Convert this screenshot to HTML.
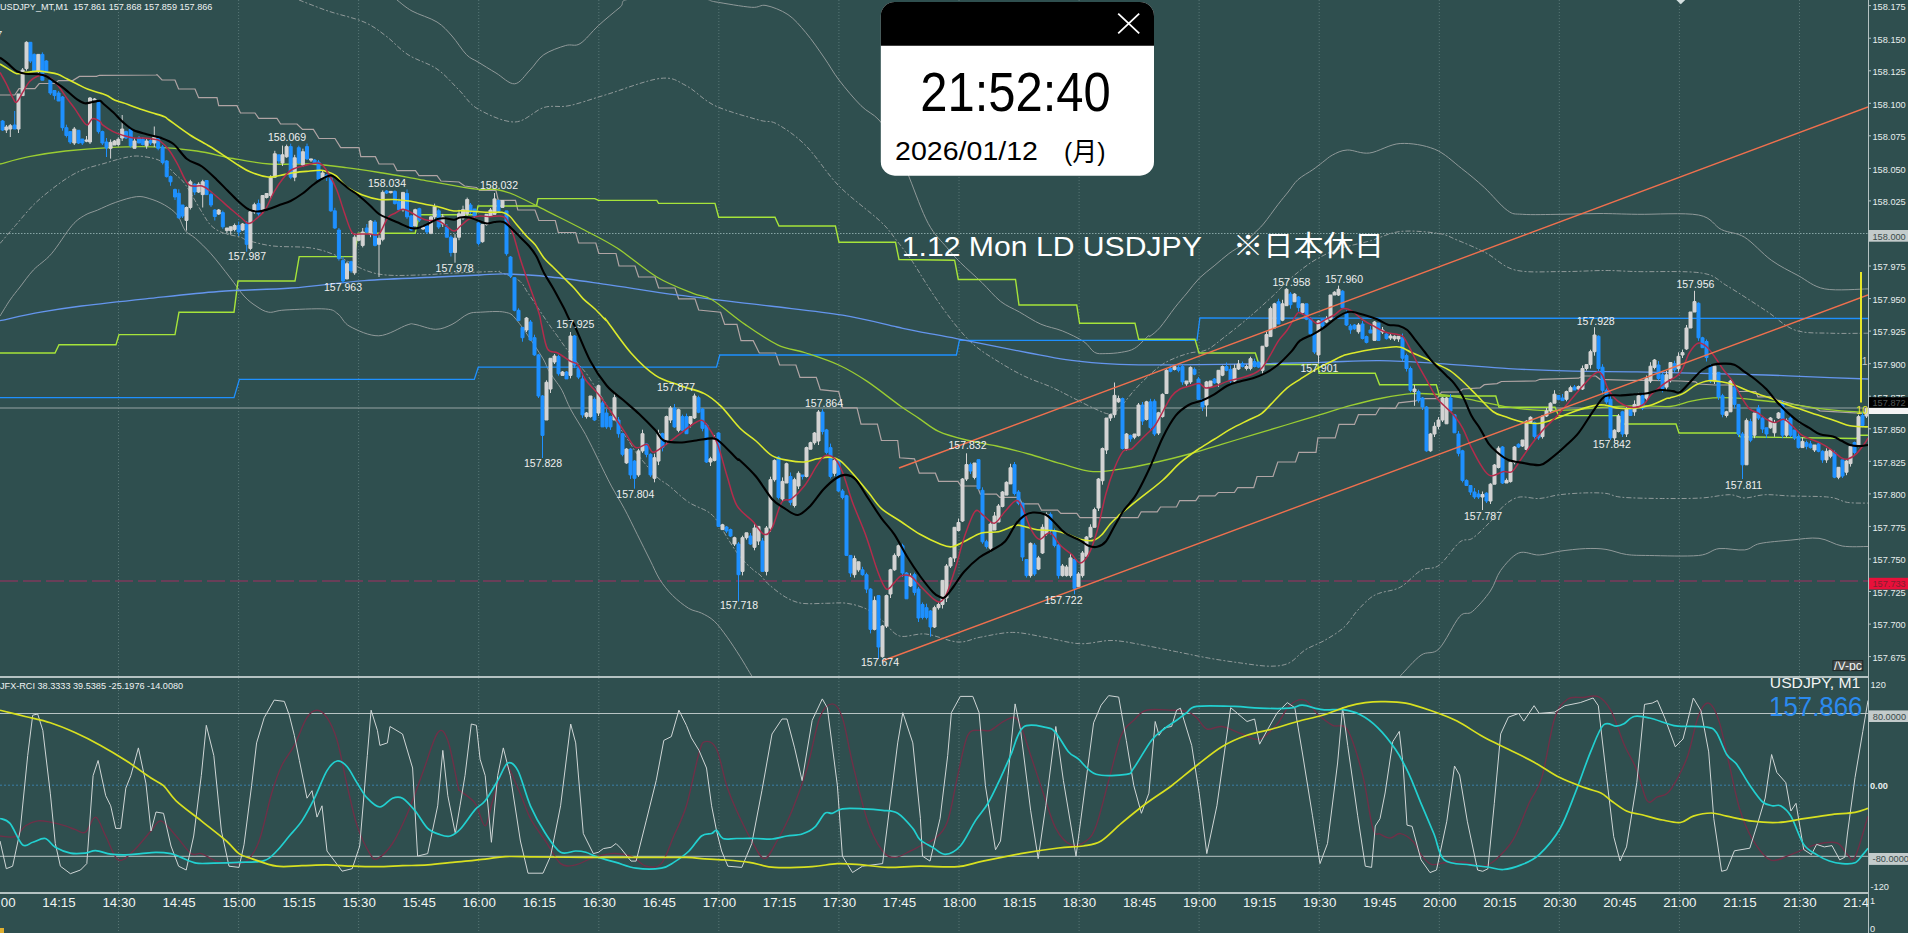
<!DOCTYPE html>
<html><head><meta charset="utf-8"><title>USDJPY M1</title>
<style>html,body{margin:0;padding:0;background:#2f4f4f;overflow:hidden}#root{position:relative;width:1908px;height:933px;overflow:hidden}</style>
</head><body><div id="root">
<svg width="1908" height="933" viewBox="0 0 1908 933" style="position:absolute;left:0;top:0"><defs><clipPath id="cm"><rect x="0" y="0" width="1868" height="676"/></clipPath><clipPath id="cr"><rect x="0" y="678" width="1868" height="214"/></clipPath></defs><rect width="1908" height="933" fill="#2f4f4f"/><g stroke="#6e8a8a" stroke-width="1" stroke-dasharray="1 2" opacity="0.65"><line x1="118.5" y1="0" x2="118.5" y2="933"/><line x1="238.6" y1="0" x2="238.6" y2="933"/><line x1="358.6" y1="0" x2="358.6" y2="933"/><line x1="478.7" y1="0" x2="478.7" y2="933"/><line x1="598.8" y1="0" x2="598.8" y2="933"/><line x1="718.8" y1="0" x2="718.8" y2="933"/><line x1="838.9" y1="0" x2="838.9" y2="933"/><line x1="959.0" y1="0" x2="959.0" y2="933"/><line x1="1079.1" y1="0" x2="1079.1" y2="933"/><line x1="1199.1" y1="0" x2="1199.1" y2="933"/><line x1="1319.2" y1="0" x2="1319.2" y2="933"/><line x1="1439.3" y1="0" x2="1439.3" y2="933"/><line x1="1559.3" y1="0" x2="1559.3" y2="933"/><line x1="1679.4" y1="0" x2="1679.4" y2="933"/><line x1="1799.5" y1="0" x2="1799.5" y2="933"/></g><g clip-path="url(#cm)" fill="none"><line x1="0" y1="233.5" x2="1868" y2="233.5" stroke="#86a4a4" stroke-dasharray="1.5 1.5" stroke-width="1"/><line x1="0" y1="408" x2="1868" y2="408" stroke="#95a3a3" stroke-width="1.2"/><line x1="0" y1="581" x2="1868" y2="581" stroke="#7e3a5c" stroke-dasharray="18 5" stroke-width="1.4"/><path d="M397.0 0.0C399.5 1.8 405.3 7.3 412.0 11.0C418.7 14.7 430.3 17.8 437.0 22.0C443.7 26.2 447.1 30.6 452.0 36.0C456.9 41.5 462.2 50.4 466.5 54.7C470.8 59.0 473.1 59.0 478.0 62.0C482.9 65.0 489.9 69.4 496.0 73.0C502.1 76.6 509.0 84.3 514.7 83.8C520.4 83.3 525.1 74.8 530.0 70.0C534.9 65.2 537.8 58.8 543.8 54.7C549.8 50.6 559.7 47.3 565.7 45.5C571.7 43.7 574.5 47.0 580.0 43.7C585.5 40.4 591.8 31.6 598.5 25.5C605.2 19.4 614.6 11.7 620.0 7.3C625.4 2.9 617.7 0.4 631.0 -1.0C644.3 -2.4 686.0 -1.5 700.0 -1.0C714.0 -0.5 706.4 0.4 715.0 1.8C723.6 3.2 743.0 6.7 751.5 7.3C760.0 7.9 759.9 4.3 766.0 5.5C772.1 6.7 781.3 10.1 788.0 14.6C794.7 19.1 799.9 25.6 806.0 32.8C812.1 40.0 818.9 50.1 824.4 58.0C829.9 65.9 832.9 72.0 839.0 80.0C845.1 88.0 854.3 99.0 861.0 105.7C867.7 112.4 873.0 113.3 879.0 120.0C885.0 126.7 891.9 136.1 897.0 145.8C902.1 155.5 904.3 165.0 909.5 178.0C914.7 191.0 922.0 212.0 928.3 223.6C934.5 235.2 941.6 241.2 947.0 247.7C952.4 254.2 954.6 256.7 960.4 262.5C966.2 268.3 975.2 276.1 981.9 282.6C988.6 289.1 994.4 296.5 1000.6 301.4C1006.9 306.3 1012.7 308.2 1019.4 312.0C1026.1 315.8 1033.8 321.1 1040.9 324.2C1048.1 327.3 1055.2 328.0 1062.3 330.9C1069.4 333.8 1078.4 338.0 1083.8 341.6C1089.2 345.2 1090.9 350.3 1094.5 352.3C1098.1 354.3 1100.7 353.6 1105.2 353.6C1109.7 353.6 1116.4 353.2 1121.3 352.3C1126.2 351.4 1130.2 351.0 1134.7 348.3C1139.2 345.6 1145.5 338.2 1148.0 336.2C1150.5 334.2 1148.0 337.6 1150.0 336.2C1152.0 334.8 1155.8 332.3 1159.9 327.6C1164.0 322.9 1170.2 313.6 1174.7 307.8C1179.2 302.0 1182.9 297.9 1187.0 293.0C1191.1 288.1 1194.8 282.7 1199.3 278.2C1203.8 273.7 1209.2 270.0 1214.1 265.9C1219.0 261.8 1224.0 257.3 1228.9 253.6C1233.8 249.9 1239.6 247.0 1243.7 243.7C1247.8 240.4 1250.3 237.1 1253.6 233.8C1256.9 230.5 1259.3 228.9 1263.4 224.0C1267.5 219.1 1274.1 209.6 1278.2 204.3C1282.3 199.0 1284.8 196.1 1288.1 192.0C1291.4 187.9 1293.9 183.3 1298.0 179.6C1302.1 175.9 1308.7 172.6 1312.8 169.7C1316.9 166.8 1319.3 164.8 1322.6 162.3C1325.9 159.9 1328.4 157.1 1332.5 155.0C1336.6 152.9 1341.1 150.3 1347.3 150.0C1353.5 149.7 1360.8 154.1 1369.6 153.0C1378.4 151.9 1389.4 144.1 1400.2 143.5C1411.0 142.9 1424.4 145.1 1434.6 149.2C1444.8 153.3 1453.1 161.9 1461.4 168.3C1469.7 174.7 1476.7 180.5 1484.3 187.5C1491.9 194.5 1500.9 205.9 1507.3 210.4C1513.7 214.9 1513.7 213.7 1522.6 214.3C1531.5 215.0 1548.2 214.4 1560.9 214.3C1573.6 214.2 1586.2 213.5 1599.0 213.5C1611.8 213.5 1620.8 214.1 1637.4 214.3C1654.0 214.6 1684.6 212.4 1698.6 215.0C1712.6 217.6 1713.8 225.9 1721.5 229.6C1729.2 233.3 1736.2 232.1 1744.5 237.2C1752.8 242.3 1762.4 253.8 1771.3 260.2C1780.2 266.6 1789.1 270.7 1798.0 275.5C1806.9 280.3 1813.1 286.7 1824.8 288.9C1836.5 291.1 1860.8 288.9 1868.0 288.9" stroke="#8f9999" stroke-width="1"/><path d="M0.0 316.0C1.7 313.3 6.7 304.8 10.0 300.0C13.3 295.2 16.1 292.0 20.0 287.0C23.9 282.0 28.2 275.5 33.4 270.0C38.6 264.5 45.0 261.2 51.4 253.8C57.8 246.4 66.4 231.9 72.0 225.5C77.6 219.1 80.6 217.8 84.9 215.2C89.2 212.6 92.6 212.2 97.7 210.0C102.8 207.8 109.4 204.5 115.8 202.3C122.2 200.1 130.7 197.3 136.3 196.7C141.9 196.1 144.5 197.1 149.2 198.5C153.9 199.9 159.9 202.2 164.6 205.0C169.3 207.8 174.1 210.9 177.5 215.2C180.9 219.5 182.2 226.7 185.2 230.6C188.2 234.5 191.2 234.5 195.5 238.4C199.8 242.3 205.3 247.4 211.0 253.8C216.7 260.2 224.1 270.0 229.6 277.0C235.1 284.0 239.6 291.2 244.0 296.0C248.4 300.8 251.9 303.3 256.0 306.0C260.1 308.7 263.9 311.5 268.7 312.2C273.5 312.9 275.5 310.5 285.0 310.0C294.5 309.5 316.9 308.3 325.7 309.0C334.5 309.7 333.9 311.1 338.0 314.0C342.1 316.9 343.2 322.9 350.0 326.5C356.8 330.1 369.2 336.1 378.7 335.8C388.2 335.6 400.9 326.9 407.0 325.0C413.1 323.1 410.2 323.7 415.0 324.4C419.8 325.1 429.5 329.3 435.7 329.3C441.9 329.3 446.6 326.9 452.0 324.4C457.4 321.8 463.3 316.0 468.0 314.0C472.7 312.0 474.3 312.5 480.4 312.2C486.5 311.9 498.7 310.8 504.8 312.2C510.9 313.6 510.9 313.1 517.0 320.4C523.1 327.7 536.2 347.8 541.4 356.0C546.6 364.2 546.0 365.7 548.3 369.7C550.6 373.7 552.7 376.6 555.0 380.0C557.3 383.4 559.3 385.3 562.0 390.3C564.7 395.3 567.0 402.6 571.0 410.0C575.0 417.4 581.1 426.3 585.7 434.7C590.3 443.1 594.3 451.8 598.6 460.4C602.9 469.0 607.1 478.1 611.4 486.1C615.7 494.1 620.0 500.6 624.3 508.6C628.6 516.6 632.9 525.7 637.2 534.3C641.5 542.9 646.2 552.5 650.0 560.0C653.8 567.5 656.0 573.5 659.7 579.4C663.5 585.3 667.7 590.6 672.5 595.4C677.3 600.2 683.8 605.3 688.6 608.3C693.4 611.2 697.2 611.0 701.5 613.1C705.8 615.2 710.0 617.2 714.3 621.2C718.6 625.2 722.9 631.3 727.2 637.2C731.5 643.1 736.2 650.6 740.0 656.5C743.8 662.4 747.3 668.7 749.7 672.6C752.1 676.5 753.3 678.1 754.5 680.0C755.7 681.9 756.6 683.3 757.0 684.0" stroke="#8f9999" stroke-width="1"/><path d="M1393.0 684.0C1394.2 682.6 1395.8 680.5 1400.5 675.7C1405.2 670.9 1414.6 659.7 1421.0 655.2C1427.4 650.7 1432.6 655.2 1439.0 648.8C1445.4 642.4 1454.0 622.8 1459.6 616.6C1465.2 610.4 1467.3 615.8 1472.4 611.5C1477.5 607.2 1485.7 597.9 1490.4 591.0C1495.1 584.1 1496.0 576.7 1500.7 570.4C1505.4 564.1 1512.3 555.6 1518.7 553.0C1525.1 550.4 1532.4 555.3 1539.2 555.0C1546.0 554.7 1552.1 552.3 1559.8 551.2C1567.5 550.1 1577.7 548.9 1585.4 548.6C1593.1 548.3 1599.2 548.4 1606.0 549.4C1612.8 550.4 1619.2 553.5 1626.5 554.5C1633.8 555.5 1637.6 555.3 1649.6 555.5C1661.6 555.7 1686.8 556.6 1698.4 555.5C1710.0 554.4 1711.3 549.5 1719.0 548.6C1726.7 547.7 1737.9 550.8 1744.7 549.9C1751.5 549.0 1752.3 545.1 1760.0 543.5C1767.7 541.9 1781.1 541.0 1790.9 540.1C1800.7 539.2 1810.5 537.3 1819.0 538.3C1827.5 539.3 1834.0 544.6 1842.2 546.0C1850.4 547.4 1863.7 546.4 1868.0 546.5" stroke="#8f9999" stroke-width="1"/><path d="M299.0 0.0C303.8 1.8 317.2 7.3 328.0 11.0C338.8 14.7 354.3 17.8 364.0 22.0C373.7 26.2 378.7 30.6 386.0 36.0C393.3 41.5 399.5 49.2 408.0 54.7C416.5 60.2 428.5 63.1 437.0 69.0C445.5 74.9 452.2 83.3 459.0 90.0C465.8 96.7 468.7 103.7 478.0 109.0C487.3 114.3 503.7 122.2 514.7 122.0C525.7 121.8 534.8 110.2 543.8 107.5C552.8 104.8 558.7 107.8 569.0 105.7C579.3 103.6 590.6 99.3 605.8 94.8C621.0 90.2 647.0 79.9 660.4 78.4C673.8 76.9 676.9 81.0 686.0 85.6C695.1 90.1 702.9 100.0 715.0 105.7C727.1 111.4 748.5 117.0 758.8 120.0C769.1 123.0 769.1 119.7 777.0 124.0C784.9 128.3 795.7 135.5 806.0 145.8C816.3 156.1 826.7 173.5 839.0 186.0C851.3 198.5 870.5 212.1 880.0 221.0C889.5 229.9 890.6 233.0 896.0 239.7C901.4 246.4 907.3 254.0 912.2 261.2C917.1 268.4 920.7 275.0 925.6 282.6C930.5 290.2 935.9 298.6 941.7 306.7C947.5 314.8 954.6 324.2 960.4 330.9C966.2 337.6 969.8 341.6 976.5 347.0C983.2 352.4 992.6 358.1 1000.6 363.0C1008.6 367.9 1016.3 372.4 1024.8 376.4C1033.3 380.4 1043.6 383.6 1051.6 387.2C1059.6 390.8 1065.8 394.3 1073.0 397.9C1080.2 401.5 1088.2 405.9 1094.5 408.6C1100.8 411.3 1106.1 414.4 1110.6 414.0C1115.1 413.6 1117.3 410.0 1121.3 406.0C1125.3 402.0 1130.2 394.7 1134.7 389.8C1139.2 384.9 1143.5 380.5 1148.0 376.4C1152.5 372.3 1157.0 368.1 1161.5 365.0C1166.0 361.9 1170.2 360.0 1175.0 358.0C1179.8 356.0 1184.7 354.4 1190.0 353.0C1195.3 351.6 1201.0 352.4 1206.7 349.8C1212.4 347.2 1217.0 342.8 1224.0 337.4C1231.0 332.0 1240.4 324.7 1248.6 317.7C1256.8 310.7 1266.7 301.7 1273.3 295.5C1279.9 289.3 1283.2 285.2 1288.1 280.7C1293.0 276.2 1298.0 272.1 1302.9 268.4C1307.8 264.7 1311.7 261.8 1317.7 258.5C1323.7 255.2 1330.3 251.6 1339.0 248.7C1347.7 245.8 1359.4 243.9 1369.6 241.0C1379.8 238.1 1388.7 232.8 1400.2 231.5C1411.7 230.2 1428.9 232.0 1438.4 233.4C1447.9 234.8 1449.1 236.8 1457.0 240.0C1464.9 243.2 1476.3 247.9 1486.0 252.9C1495.7 257.9 1502.5 266.9 1515.0 270.0C1527.5 273.1 1546.0 271.5 1561.0 271.6C1576.0 271.7 1592.3 270.5 1605.0 270.5C1617.7 270.5 1621.3 271.2 1637.4 271.6C1653.5 272.0 1686.5 270.6 1701.5 273.0C1716.5 275.4 1716.6 279.7 1727.3 286.0C1738.0 292.3 1754.7 303.4 1765.9 310.7C1777.2 318.0 1784.1 326.2 1794.8 330.0C1805.5 333.8 1818.0 332.7 1830.2 333.2C1842.4 333.7 1861.7 333.2 1868.0 333.2" stroke="#8f9999" stroke-width="1" stroke-dasharray="5 2 2 2"/><path d="M0.0 243.5C2.6 240.5 9.8 231.9 15.4 225.5C21.0 219.1 27.4 211.0 33.4 205.0C39.4 199.0 45.4 194.2 51.4 189.5C57.4 184.8 63.9 180.0 69.5 176.6C75.1 173.2 79.3 171.1 84.9 169.0C90.5 166.9 96.9 165.5 102.9 163.8C108.9 162.1 115.3 159.9 120.9 158.6C126.5 157.3 130.7 156.0 136.3 156.0C141.9 156.0 149.6 157.3 154.3 158.6C159.0 159.9 161.2 161.2 164.6 163.8C168.0 166.4 171.6 170.6 175.0 174.0C178.4 177.4 180.9 178.3 185.2 184.3C189.5 190.3 196.3 203.1 200.6 210.0C204.9 216.9 207.1 221.6 211.0 225.5C214.9 229.4 219.0 231.3 223.8 233.2C228.6 235.1 236.0 235.8 240.0 237.0C244.0 238.2 242.5 239.0 248.0 240.5C253.5 242.0 262.7 244.8 273.0 246.0C283.3 247.2 299.5 246.3 309.8 247.8C320.1 249.3 326.0 251.3 335.0 255.0C344.0 258.6 355.5 266.4 364.0 269.7C372.5 273.0 376.8 274.1 386.0 275.0C395.2 275.9 407.4 275.3 419.0 275.0C430.6 274.7 442.6 273.6 455.5 273.0C468.4 272.4 488.9 271.6 496.4 271.5C503.9 271.4 496.5 270.8 500.3 272.3C504.1 273.8 514.4 277.2 519.0 280.6C523.6 284.0 524.5 288.0 527.7 292.6C530.9 297.2 534.6 302.9 538.0 308.0C541.4 313.1 545.1 318.8 548.3 323.4C551.4 328.0 554.0 331.4 556.9 335.4C559.8 339.4 562.0 342.8 565.4 347.4C568.8 352.0 574.0 358.6 577.4 362.9C580.8 367.2 583.4 369.6 586.0 373.0C588.6 376.4 590.6 379.9 592.9 383.4C595.2 386.8 596.9 389.1 599.7 393.7C602.6 398.3 606.6 405.3 610.0 411.0C613.4 416.7 616.7 422.7 620.0 428.0C623.3 433.3 627.1 438.7 630.0 443.0C632.9 447.3 632.8 448.4 637.2 454.0C641.6 459.6 651.1 471.2 656.5 476.5C661.9 481.8 663.9 481.7 669.3 486.0C674.6 490.3 682.1 497.9 688.6 502.2C695.1 506.5 703.2 508.6 708.0 511.8C712.8 515.0 714.4 517.2 717.6 521.5C720.8 525.8 723.5 531.7 727.2 537.6C730.9 543.5 735.7 551.4 740.0 556.8C744.3 562.1 749.7 566.7 753.0 569.7C756.3 572.7 757.3 572.5 760.0 575.0C762.7 577.5 765.1 581.3 769.4 585.0C773.7 588.7 780.3 594.2 785.7 597.2C791.1 600.2 795.2 602.3 802.0 603.3C808.8 604.3 818.9 603.3 826.4 603.3C833.9 603.3 840.0 602.3 846.8 603.3C853.6 604.3 861.1 606.3 867.2 609.4C873.3 612.5 878.1 617.3 883.5 621.7C888.9 626.1 892.7 634.0 899.7 636.0C906.7 638.0 916.0 633.0 925.7 634.0C935.4 635.0 948.8 641.5 957.9 642.0C967.0 642.5 971.3 638.8 980.4 637.2C989.5 635.6 1001.8 632.4 1012.5 632.4C1023.2 632.4 1033.5 635.3 1044.7 637.2C1056.0 639.1 1068.8 643.2 1080.0 643.7C1091.2 644.2 1101.5 640.2 1112.2 640.5C1122.9 640.8 1133.7 643.4 1144.4 645.3C1155.1 647.2 1165.8 649.6 1176.5 651.7C1187.2 653.8 1198.0 656.2 1208.7 658.1C1219.4 660.0 1230.6 661.6 1240.8 663.0C1251.0 664.4 1261.8 666.2 1269.8 666.2C1277.8 666.2 1283.1 665.7 1289.0 663.0C1294.9 660.3 1299.1 653.8 1305.0 650.0C1310.9 646.2 1318.0 644.2 1324.4 640.5C1330.9 636.8 1338.3 632.4 1343.7 627.6C1349.1 622.8 1352.3 616.3 1356.6 611.5C1360.9 606.7 1365.6 601.7 1369.5 598.6C1373.4 595.5 1374.8 594.9 1380.0 593.0C1385.2 591.1 1393.7 590.9 1400.5 587.1C1407.3 583.3 1414.6 574.0 1421.0 570.4C1427.4 566.8 1432.6 570.0 1439.0 565.3C1445.4 560.6 1454.0 546.7 1459.6 542.2C1465.2 537.7 1467.3 541.7 1472.4 538.3C1477.5 534.9 1485.2 527.0 1490.4 521.6C1495.6 516.2 1498.6 510.3 1503.3 506.2C1508.0 502.1 1512.7 498.5 1518.7 497.2C1524.7 495.9 1532.4 498.9 1539.2 498.5C1546.0 498.1 1552.1 495.6 1559.8 494.7C1567.5 493.8 1577.7 493.1 1585.4 492.9C1593.1 492.7 1600.0 492.7 1606.0 493.4C1612.0 494.1 1612.0 496.3 1621.4 497.2C1630.8 498.1 1649.2 498.4 1662.5 498.5C1675.8 498.6 1689.9 498.6 1701.0 498.0C1712.1 497.4 1722.0 494.7 1729.3 494.7C1736.6 494.7 1738.7 498.0 1744.7 498.0C1750.7 498.0 1757.5 495.0 1765.2 494.7C1772.9 494.4 1780.2 495.6 1790.9 496.0C1801.6 496.4 1820.0 496.1 1829.4 497.2C1838.8 498.3 1841.0 501.4 1847.4 502.4C1853.8 503.4 1864.6 503.0 1868.0 503.1" stroke="#8f9999" stroke-width="1" stroke-dasharray="5 2 2 2"/><polyline points="0.0,95.0 14.8,95.0 19.0,88.6 35.0,88.6 39.2,83.5 55.3,83.5 58.5,80.6 72.7,80.6 79.4,76.4 96.5,76.4 99.4,75.3 156.0,75.0 157.0,74.7 162.0,80.0 175.0,80.0 178.6,89.0 195.0,89.0 198.6,97.7 217.0,97.7 218.7,105.7 237.0,105.7 240.5,113.0 255.0,113.0 258.7,118.4 277.0,118.4 280.6,124.0 297.0,124.0 302.5,129.4 313.4,129.4 319.0,138.5 335.0,138.5 340.7,147.6 359.0,147.6 360.8,156.7 375.4,156.7 379.0,164.0 393.6,164.0 397.0,170.6 415.5,170.6 419.0,175.7 437.0,175.7 441.0,181.0 459.0,182.0 464.6,186.0 476.5,187.5 479.5,190.5 496.0,190.5 498.3,200.3 515.5,200.3 517.8,210.0 535.0,210.0 538.8,220.5 555.3,220.5 558.3,232.5 575.6,232.5 578.6,243.0 595.8,243.0 598.8,253.5 616.0,253.5 619.0,266.0 620.3,266.0 635.0,266.0 638.6,277.0 655.0,277.0 658.6,288.0 675.0,288.0 678.7,298.8 695.0,298.8 698.7,310.0 720.6,312.2 724.7,324.4 736.9,324.4 741.0,340.7 753.2,340.7 759.3,353.0 775.6,353.0 779.6,365.0 795.9,365.0 800.0,377.4 816.3,377.4 820.3,389.6 838.7,391.6 842.7,407.9 857.0,407.9 861.0,424.2 877.4,424.2 881.4,440.5 897.7,440.5 899.7,457.8 914.5,458.8 919.3,473.2 935.4,473.2 938.6,481.3 957.9,481.3 961.0,486.0 977.2,486.0 980.4,494.2 996.5,494.2 999.7,497.4 1019.0,497.4 1022.2,503.8 1038.3,503.8 1041.5,510.2 1057.6,510.2 1060.8,513.4 1076.8,513.4 1080.0,517.6 1138.0,517.6 1141.2,511.8 1157.2,511.8 1160.5,507.0 1176.5,507.0 1179.7,500.6 1195.8,500.6 1199.0,495.8 1215.0,495.8 1218.3,492.5 1234.4,492.5 1237.6,487.7 1253.7,487.7 1257.0,476.5 1273.0,476.5 1277.8,462.0 1295.5,462.0 1298.7,452.3 1316.0,452.3 1317.9,437.9 1335.2,437.9 1339.0,424.4 1354.5,424.4 1358.4,414.7 1375.7,414.7 1379.6,408.0 1395.4,408.3 1398.6,402.9 1415.8,400.8 1420.0,398.6 1437.2,398.6 1441.5,392.2 1458.6,391.8 1462.9,389.0 1480.0,387.9 1484.3,384.7 1497.0,383.6 1501.4,381.5 1535.7,381.0 1540.0,379.3 1578.6,378.2 1583.0,376.0 1595.8,376.0 1600.0,379.3 1630.0,380.4 1651.5,380.4 1680.0,381.0 1695.7,381.8 1697.9,384.0 1715.0,385.0 1734.3,385.0 1738.6,391.5 1755.7,391.5 1757.9,396.8 1772.9,396.8 1777.2,400.0 1794.3,404.3 1815.8,408.6 1820.0,410.8 1854.4,412.9 1868.0,412.9" stroke="#b0a4a4" stroke-width="1.2"/><polyline points="0.0,397.7 234.0,397.7 239.4,379.4 474.3,379.4 478.3,367.2 716.5,367.2 719.8,355.0 956.4,355.0 959.4,340.4 1197.0,340.4 1199.9,318.0 1868.0,318.5" stroke="#1e90ff" stroke-width="1.3"/><polyline points="0.0,353.0 55.0,353.0 59.0,344.8 116.0,344.8 119.0,334.6 175.0,334.6 179.0,312.2 234.0,312.2 238.0,281.0 295.0,281.0 299.2,256.6 354.2,256.6 358.2,233.2 415.2,233.2 419.3,214.8 476.0,214.8 478.0,206.0 536.5,206.0 538.0,198.6 594.8,198.6 598.5,200.4 656.8,200.4 658.6,203.4 715.0,203.4 718.7,217.2 775.0,217.2 779.0,226.0 835.4,226.0 839.0,242.3 895.5,242.3 899.0,259.5 954.6,260.2 958.3,279.5 1015.5,279.5 1019.0,305.0 1076.7,305.0 1079.6,323.3 1135.0,323.3 1138.7,339.3 1195.0,339.3 1199.0,353.0 1255.3,353.0 1259.0,364.5 1317.9,364.5 1319.0,373.2 1375.2,373.2 1379.6,384.8 1436.3,384.7 1439.5,396.0 1495.8,396.0 1499.0,407.2 1555.0,407.2 1558.6,415.6 1618.0,415.6 1622.0,424.0 1676.0,424.0 1679.0,433.0 1737.0,433.0 1740.2,436.8 1856.6,438.5 1859.0,435.2 1868.0,435.2" stroke="#a6e43a" stroke-width="1.4"/><path d="M0.0 320.7C6.8 319.3 27.1 314.6 40.7 312.2C54.3 309.8 63.9 308.2 81.4 306.0C98.9 303.8 122.9 301.2 145.8 298.8C168.7 296.4 194.4 293.3 218.7 291.5C243.0 289.7 267.2 289.8 291.5 288.0C315.8 286.2 340.1 282.4 364.4 280.6C388.6 278.8 417.7 277.9 437.0 277.0C456.3 276.1 468.3 275.5 480.0 275.0C491.7 274.5 495.6 273.7 507.4 274.0C519.2 274.3 534.6 275.3 551.0 277.0C567.4 278.7 584.5 281.3 605.8 284.3C627.1 287.3 651.4 291.6 678.7 295.2C706.0 298.8 742.5 302.7 769.8 306.0C797.1 309.3 821.4 311.7 842.6 315.2C863.8 318.7 884.1 324.2 897.0 327.0C909.9 329.8 910.1 329.9 920.0 331.8C929.9 333.7 944.2 336.2 956.4 338.6C968.6 341.0 980.9 343.5 993.0 345.9C1005.1 348.3 1017.2 350.7 1029.3 353.0C1041.4 355.3 1053.7 358.0 1065.8 359.7C1077.9 361.4 1089.8 362.5 1102.0 363.4C1114.2 364.2 1126.5 364.6 1138.7 364.8C1150.9 365.0 1156.8 364.9 1175.0 364.8C1193.2 364.7 1223.7 364.4 1248.0 364.0C1272.3 363.6 1299.0 362.9 1321.0 362.3C1343.0 361.7 1359.5 360.4 1380.0 360.6C1400.5 360.9 1422.9 362.5 1444.3 363.8C1465.7 365.1 1487.1 367.4 1508.6 368.6C1530.0 369.8 1551.6 370.7 1573.0 371.2C1594.4 371.7 1615.8 371.4 1637.2 371.8C1658.6 372.2 1680.0 372.9 1701.5 373.4C1723.0 373.9 1744.5 374.3 1765.9 375.0C1787.3 375.7 1813.0 376.9 1830.0 377.6C1847.0 378.3 1861.7 378.8 1868.0 379.0" stroke="#6495ed" stroke-width="1.3"/><path d="M0.0 164.0C4.8 162.8 18.1 158.9 29.0 156.7C39.9 154.5 52.3 152.5 65.6 151.0C78.9 149.5 94.4 148.3 109.0 147.6C123.6 146.9 138.4 146.3 153.0 146.9C167.6 147.5 183.5 149.1 196.8 151.0C210.1 152.9 220.8 156.3 233.0 158.5C245.2 160.7 256.9 163.1 269.7 164.0C282.5 164.9 297.1 163.4 309.8 164.0C322.5 164.6 333.9 166.1 346.0 167.6C358.1 169.1 370.5 171.1 382.7 173.0C394.9 174.9 406.9 177.2 419.0 179.3C431.1 181.5 445.3 184.2 455.5 185.9C465.7 187.6 473.2 188.9 480.0 189.5C486.8 190.1 490.6 188.6 496.4 189.5C502.2 190.4 506.2 191.3 514.7 195.0C523.2 198.7 536.6 205.9 547.5 211.4C558.4 216.9 568.5 221.7 580.0 227.8C591.5 233.9 603.9 239.6 616.7 247.8C629.5 256.0 644.1 269.4 656.8 277.0C669.5 284.6 683.7 289.6 693.0 293.4C702.3 297.2 703.7 294.8 712.4 300.0C721.1 305.2 734.1 316.9 745.0 324.4C755.9 331.9 767.4 340.0 777.6 344.8C787.8 349.6 795.8 349.6 806.0 353.0C816.2 356.4 828.5 360.3 838.7 365.0C848.9 369.7 857.0 374.6 867.2 381.4C877.4 388.2 891.3 399.5 900.0 405.7C908.7 411.9 912.9 414.3 919.3 418.6C925.7 422.9 931.1 427.9 938.6 431.4C946.1 434.9 954.6 437.1 964.3 439.5C973.9 441.9 985.8 443.6 996.5 446.0C1007.2 448.4 1017.9 451.1 1028.6 454.0C1039.3 456.9 1050.1 460.7 1060.8 463.6C1071.5 466.5 1082.3 470.8 1093.0 471.6C1103.7 472.4 1114.3 470.0 1125.0 468.4C1135.7 466.8 1146.5 464.4 1157.2 462.0C1167.9 459.6 1178.7 456.9 1189.4 454.0C1200.1 451.1 1210.8 447.5 1221.5 444.3C1232.2 441.1 1243.0 437.9 1253.7 434.7C1264.4 431.5 1275.2 428.2 1285.9 425.0C1296.6 421.8 1307.3 418.6 1318.0 415.4C1328.7 412.2 1339.7 408.5 1350.0 405.7C1360.3 402.9 1369.6 400.5 1380.0 398.5C1390.4 396.5 1401.5 394.3 1412.2 393.7C1422.9 393.1 1433.6 393.8 1444.3 395.0C1455.0 396.2 1465.8 398.8 1476.5 400.8C1487.2 402.8 1497.9 405.6 1508.6 407.2C1519.3 408.8 1530.1 410.0 1540.8 410.4C1551.5 410.8 1562.3 410.3 1573.0 409.8C1583.7 409.3 1594.3 407.9 1605.0 407.2C1615.7 406.5 1626.4 405.7 1637.2 405.6C1648.0 405.5 1661.0 407.2 1670.0 406.5C1679.0 405.8 1684.2 402.5 1691.4 401.1C1698.6 399.7 1705.8 398.4 1712.9 397.9C1720.1 397.4 1727.2 397.5 1734.3 397.9C1741.4 398.2 1748.5 399.3 1755.7 400.0C1762.9 400.7 1770.1 401.3 1777.2 402.2C1784.3 403.1 1791.5 404.3 1798.6 405.4C1805.7 406.5 1812.8 407.7 1820.0 408.6C1827.2 409.5 1833.5 410.2 1841.5 410.8C1849.5 411.4 1863.6 412.2 1868.0 412.5" stroke="#9acd32" stroke-width="1.3"/><g fill="#1e90ff" stroke="#1e90ff" stroke-width="1"><path d="M2.6 120.0V131.0M1.1 121.0h3v9.0h-3z"/><path d="M14.7 111.0V129.0M13.2 125.0h3v4.0h-3z"/><path d="M30.4 42.3V63.0M28.9 42.3h3v18.7h-3z"/><path d="M34.2 53.4V71.0M32.7 54.4h3v16.6h-3z"/><path d="M42.4 52.4V80.2M40.9 54.4h3v25.8h-3z"/><path d="M46.3 60.0V72.4M44.8 61.0h3v11.4h-3z"/><path d="M50.4 78.0V95.0M48.9 80.0h3v13.0h-3z"/><path d="M54.5 90.5V99.6M53.0 90.5h3v5.1h-3z"/><path d="M58.6 91.0V101.0M57.1 93.0h3v8.0h-3z"/><path d="M62.5 96.0V130.7M61.0 97.0h3v30.7h-3z"/><path d="M66.4 124.7V137.5M64.9 127.7h3v7.8h-3z"/><path d="M70.2 131.6V144.0M68.7 131.6h3v10.4h-3z"/><path d="M78.5 130.3V144.0M77.0 130.3h3v12.7h-3z"/><path d="M82.3 139.0V145.0M80.8 139.0h3v4.0h-3z"/><path d="M98.5 102.5V133.6M97.0 102.5h3v29.1h-3z"/><path d="M102.4 130.6V145.0M100.9 131.6h3v11.4h-3z"/><path d="M106.5 138.0V157.0M105.0 142.0h3v6.0h-3z"/><path d="M126.0 130.6V139.0M124.5 131.6h3v6.4h-3z"/><path d="M130.7 129.0V147.8M129.2 129.0h3v16.8h-3z"/><path d="M139.0 136.0V143.0M137.5 138.0h3v5.0h-3z"/><path d="M142.8 137.3V145.5M141.3 139.3h3v5.2h-3z"/><path d="M150.5 138.6V145.0M149.0 140.6h3v2.4h-3z"/><path d="M158.2 137.0V150.3M156.7 138.0h3v10.3h-3z"/><path d="M162.6 145.0V164.5M161.1 147.0h3v15.5h-3z"/><path d="M166.7 160.0V177.6M165.2 161.0h3v15.6h-3z"/><path d="M170.5 175.6V185.8M169.0 176.6h3v5.2h-3z"/><path d="M175.0 188.5V200.0M173.5 189.5h3v7.5h-3z"/><path d="M178.8 189.3V218.8M177.3 193.3h3v24.5h-3z"/><path d="M182.5 205.0V218.0M181.0 205.0h3v11.0h-3z"/><path d="M194.7 183.3V195.0M193.2 184.3h3v7.7h-3z"/><path d="M206.6 180.5V194.6M205.1 180.5h3v14.1h-3z"/><path d="M211.0 192.6V207.0M209.5 194.6h3v10.4h-3z"/><path d="M214.8 209.0V220.5M213.3 210.0h3v6.5h-3z"/><path d="M222.8 210.6V228.8M221.3 212.6h3v14.2h-3z"/><path d="M238.7 221.5V236.0M237.2 225.5h3v6.5h-3z"/><path d="M246.7 221.0V251.7M245.2 224.0h3v20.3h-3z"/><path d="M258.5 199.6V215.8M257.0 203.6h3v10.2h-3z"/><path d="M278.9 154.8V163.9M277.4 154.8h3v6.1h-3z"/><path d="M290.7 143.6V179.2M289.2 146.6h3v30.6h-3z"/><path d="M298.8 145.7V164.0M297.3 147.7h3v15.3h-3z"/><path d="M307.0 143.6V159.9M305.5 146.6h3v12.3h-3z"/><path d="M314.6 159.0V164.0M313.1 160.0h3v3.0h-3z"/><path d="M318.5 160.0V179.2M317.0 162.0h3v17.2h-3z"/><path d="M326.7 174.0V181.0M325.2 175.0h3v2.0h-3z"/><path d="M330.8 177.2V211.8M329.3 178.2h3v32.6h-3z"/><path d="M334.8 207.8V229.0M333.3 210.8h3v17.2h-3z"/><path d="M338.9 228.0V260.6M337.4 230.0h3v28.6h-3z"/><path d="M343.0 256.6V283.0M341.5 260.6h3v20.4h-3z"/><path d="M351.1 260.7V272.8M349.6 261.7h3v9.1h-3z"/><path d="M366.8 224.0V234.0M365.3 228.0h3v4.0h-3z"/><path d="M375.0 220.0V246.4M373.5 222.0h3v23.4h-3z"/><path d="M386.6 190.0V194.0M385.1 191.0h3v2.0h-3z"/><path d="M394.9 190.4V204.6M393.4 191.4h3v12.2h-3z"/><path d="M399.0 198.6V210.7M397.5 201.6h3v8.1h-3z"/><path d="M407.0 189.5V218.9M405.5 193.5h3v23.4h-3z"/><path d="M411.2 214.9V231.0M409.7 215.9h3v14.1h-3z"/><path d="M419.3 207.7V222.0M417.8 208.7h3v11.3h-3z"/><path d="M427.0 224.0V234.0M425.5 226.0h3v6.0h-3z"/><path d="M438.7 208.8V229.0M437.2 210.8h3v16.2h-3z"/><path d="M446.8 224.0V237.2M445.3 227.0h3v10.2h-3z"/><path d="M450.9 235.2V256.5M449.4 237.2h3v15.3h-3z"/><path d="M470.5 203.0V214.0M469.0 205.0h3v7.0h-3z"/><path d="M474.5 209.0V218.0M473.0 209.0h3v7.0h-3z"/><path d="M478.5 219.9V245.4M477.0 222.9h3v20.5h-3z"/><path d="M498.5 199.6V213.0M497.0 200.6h3v10.4h-3z"/><path d="M506.5 210.9V255.7M505.0 210.9h3v42.8h-3z"/><path d="M510.5 256.0V278.0M509.0 257.0h3v19.0h-3z"/><path d="M514.5 277.7V311.3M513.0 277.7h3v32.6h-3z"/><path d="M518.5 308.3V320.6M517.0 310.3h3v10.3h-3z"/><path d="M522.5 327.4V341.7M521.0 327.4h3v10.3h-3z"/><path d="M530.5 320.0V341.0M529.0 322.0h3v18.0h-3z"/><path d="M534.5 334.7V355.9M533.0 337.7h3v17.2h-3z"/><path d="M538.5 353.9V398.0M537.0 354.9h3v41.1h-3z"/><path d="M542.5 395.0V458.0M541.0 396.0h3v39.4h-3z"/><path d="M558.5 354.6V375.7M557.0 356.6h3v17.1h-3z"/><path d="M566.5 371.0V378.9M565.0 372.0h3v6.9h-3z"/><path d="M574.5 335.0V368.1M573.0 336.0h3v29.1h-3z"/><path d="M578.5 367.6V379.1M577.0 368.6h3v8.5h-3z"/><path d="M582.5 374.9V417.9M581.0 378.9h3v36.0h-3z"/><path d="M594.5 397.4V421.0M593.0 399.4h3v20.6h-3z"/><path d="M602.5 400.9V426.9M601.0 402.9h3v24.0h-3z"/><path d="M606.5 409.0V428.9M605.0 413.0h3v13.9h-3z"/><path d="M610.5 415.6V429.9M609.0 416.6h3v10.3h-3z"/><path d="M618.5 417.0V437.7M617.0 420.0h3v13.7h-3z"/><path d="M622.5 432.7V456.3M621.0 433.7h3v20.6h-3z"/><path d="M630.5 448.1V478.9M629.0 449.1h3v25.8h-3z"/><path d="M634.5 460.1V488.7M633.0 461.1h3v17.2h-3z"/><path d="M646.5 443.0V457.3M645.0 444.0h3v10.3h-3z"/><path d="M650.5 453.3V476.9M649.0 454.3h3v20.6h-3z"/><path d="M662.5 432.7V451.4M661.0 433.7h3v13.7h-3z"/><path d="M674.5 404.0V427.9M673.0 408.0h3v18.9h-3z"/><path d="M682.5 414.6V431.3M681.0 416.6h3v13.7h-3z"/><path d="M686.5 413.6V433.7M685.0 416.6h3v17.1h-3z"/><path d="M698.5 395.7V413.2M697.0 397.7h3v14.5h-3z"/><path d="M702.5 408.0V431.3M701.0 409.0h3v19.3h-3z"/><path d="M706.5 423.0V463.0M705.0 425.0h3v37.0h-3z"/><path d="M718.5 432.0V526.4M717.0 433.0h3v93.4h-3z"/><path d="M726.5 526.0V533.0M725.0 527.0h3v4.0h-3z"/><path d="M730.5 528.6V537.0M729.0 529.6h3v6.4h-3z"/><path d="M738.5 542.0V601.5M737.0 544.0h3v30.7h-3z"/><path d="M750.5 533.0V545.0M749.0 536.0h3v8.0h-3z"/><path d="M762.5 538.0V571.4M761.0 541.0h3v30.4h-3z"/><path d="M778.5 456.2V499.4M777.0 457.2h3v40.2h-3z"/><path d="M790.5 472.5V505.3M789.0 476.5h3v25.8h-3z"/><path d="M802.5 475.0V479.5M801.0 475.0h3v1.5h-3z"/><path d="M822.5 409.2V434.5M821.0 412.0h3v19.5h-3z"/><path d="M826.5 428.9V454.4M825.0 429.9h3v22.5h-3z"/><path d="M830.5 443.6V478.5M829.0 447.6h3v28.9h-3z"/><path d="M838.5 459.4V492.0M837.0 460.4h3v30.6h-3z"/><path d="M842.5 489.0V499.4M841.0 491.0h3v6.4h-3z"/><path d="M846.5 494.8V555.4M845.0 495.8h3v59.6h-3z"/><path d="M850.5 555.4V577.0M849.0 555.4h3v17.6h-3z"/><path d="M862.5 566.8V575.7M861.0 569.8h3v4.9h-3z"/><path d="M866.5 572.7V593.1M865.0 574.7h3v14.4h-3z"/><path d="M870.5 588.1V633.4M869.0 589.1h3v40.3h-3z"/><path d="M878.5 595.6V659.0M877.0 595.6h3v51.4h-3z"/><path d="M902.5 543.7V577.0M901.0 545.7h3v27.3h-3z"/><path d="M906.5 572.0V598.8M905.0 573.0h3v25.8h-3z"/><path d="M914.5 572.7V595.4M913.0 574.7h3v17.7h-3z"/><path d="M918.5 587.0V622.0M917.0 589.0h3v29.0h-3z"/><path d="M922.5 602.5V619.4M921.0 604.5h3v12.9h-3z"/><path d="M926.5 603.7V619.4M925.0 607.7h3v9.7h-3z"/><path d="M930.5 610.0V636.7M929.0 611.0h3v16.0h-3z"/><path d="M970.5 462.6V474.0M969.0 464.6h3v6.4h-3z"/><path d="M978.5 459.7V489.7M977.0 459.7h3v29.0h-3z"/><path d="M982.5 487.3V543.8M981.0 490.3h3v51.5h-3z"/><path d="M986.5 539.8V548.6M985.0 541.8h3v4.8h-3z"/><path d="M1014.5 462.0V495.5M1013.0 464.6h3v28.9h-3z"/><path d="M1018.5 490.0V505.2M1017.0 492.0h3v11.2h-3z"/><path d="M1022.5 503.0V561.0M1021.0 503.0h3v54.0h-3z"/><path d="M1026.5 559.5V577.6M1025.0 559.5h3v16.1h-3z"/><path d="M1034.5 543.0V576.0M1033.0 545.0h3v29.0h-3z"/><path d="M1050.5 512.4V534.5M1049.0 514.4h3v16.1h-3z"/><path d="M1054.5 528.5V547.4M1053.0 530.5h3v14.9h-3z"/><path d="M1058.5 544.0V578.6M1057.0 545.0h3v30.6h-3z"/><path d="M1074.5 558.5V594.3M1073.0 559.5h3v28.9h-3z"/><path d="M1122.5 397.6V449.5M1121.0 398.6h3v49.9h-3z"/><path d="M1130.5 434.6V441.8M1129.0 435.6h3v3.2h-3z"/><path d="M1142.5 402.0V425.0M1141.0 405.0h3v16.0h-3z"/><path d="M1150.5 398.8V429.6M1149.0 401.8h3v25.8h-3z"/><path d="M1154.5 399.2V436.0M1153.0 401.2h3v32.8h-3z"/><path d="M1170.5 365.4V372.3M1169.0 368.4h3v2.9h-3z"/><path d="M1178.5 365.4V372.3M1177.0 367.4h3v2.9h-3z"/><path d="M1182.5 364.5V384.9M1181.0 366.5h3v15.4h-3z"/><path d="M1194.5 367.4V375.2M1193.0 369.4h3v4.8h-3z"/><path d="M1198.5 377.0V399.3M1197.0 379.0h3v20.3h-3z"/><path d="M1202.5 399.3V411.0M1201.0 399.3h3v7.7h-3z"/><path d="M1214.5 378.0V383.9M1213.0 379.0h3v3.9h-3z"/><path d="M1226.5 362.5V371.3M1225.0 366.5h3v3.8h-3z"/><path d="M1230.5 365.4V383.0M1229.0 369.4h3v11.6h-3z"/><path d="M1242.5 361.6V367.5M1241.0 363.6h3v2.9h-3z"/><path d="M1254.5 358.6V367.5M1253.0 361.6h3v4.9h-3z"/><path d="M1258.5 362.0V368.0M1257.0 362.0h3v5.0h-3z"/><path d="M1278.5 298.8V324.0M1277.0 301.8h3v22.2h-3z"/><path d="M1290.5 292.1V308.7M1289.0 294.1h3v10.6h-3z"/><path d="M1298.5 296.0V311.6M1297.0 297.0h3v10.6h-3z"/><path d="M1306.5 303.8V320.2M1305.0 303.8h3v15.4h-3z"/><path d="M1310.5 317.2V335.7M1309.0 319.2h3v14.5h-3z"/><path d="M1314.5 332.7V354.0M1313.0 333.7h3v18.3h-3z"/><path d="M1322.5 319.2V328.0M1321.0 319.2h3v6.8h-3z"/><path d="M1342.5 290.2V308.6M1341.0 291.2h3v16.4h-3z"/><path d="M1346.5 310.4V326.0M1345.0 313.4h3v11.6h-3z"/><path d="M1350.5 324.0V333.8M1349.0 326.0h3v3.8h-3z"/><path d="M1354.5 324.0V329.8M1353.0 325.0h3v3.8h-3z"/><path d="M1362.5 321.0V339.5M1361.0 324.0h3v14.5h-3z"/><path d="M1366.5 335.6V343.4M1365.0 336.6h3v5.8h-3z"/><path d="M1370.5 326.0V333.0M1369.0 330.0h3v3.0h-3z"/><path d="M1378.5 323.0V340.4M1377.0 323.0h3v17.4h-3z"/><path d="M1386.5 332.0V339.6M1385.0 334.0h3v4.6h-3z"/><path d="M1402.5 333.6V361.2M1401.0 337.6h3v20.6h-3z"/><path d="M1406.5 353.6V371.5M1405.0 355.6h3v12.9h-3z"/><path d="M1410.5 366.5V392.3M1409.0 368.5h3v21.8h-3z"/><path d="M1418.5 389.6V402.6M1417.0 391.6h3v9.0h-3z"/><path d="M1422.5 397.0V410.0M1421.0 398.0h3v9.0h-3z"/><path d="M1426.5 406.0V451.8M1425.0 407.0h3v43.8h-3z"/><path d="M1450.5 394.0V412.0M1449.0 398.0h3v13.0h-3z"/><path d="M1454.5 414.8V432.8M1453.0 414.8h3v18.0h-3z"/><path d="M1458.5 431.0V456.3M1457.0 434.0h3v19.3h-3z"/><path d="M1462.5 449.8V482.4M1461.0 450.8h3v29.6h-3z"/><path d="M1466.5 479.4V485.5M1465.0 480.4h3v5.1h-3z"/><path d="M1470.5 485.5V495.0M1469.0 485.5h3v6.5h-3z"/><path d="M1474.5 488.0V499.0M1473.0 492.0h3v5.0h-3z"/><path d="M1478.5 490.0V499.0M1477.0 494.0h3v3.0h-3z"/><path d="M1486.5 492.2V503.0M1485.0 493.2h3v7.8h-3z"/><path d="M1502.5 446.0V484.0M1501.0 447.0h3v36.0h-3z"/><path d="M1518.5 443.3V448.0M1517.0 444.3h3v2.7h-3z"/><path d="M1534.5 421.5V438.6M1533.0 422.5h3v14.1h-3z"/><path d="M1538.5 435.3V439.9M1537.0 435.3h3v2.6h-3z"/><path d="M1558.5 395.5V400.3M1557.0 395.5h3v3.8h-3z"/><path d="M1562.5 394.0V400.6M1561.0 398.0h3v2.6h-3z"/><path d="M1574.5 385.0V390.0M1573.0 387.0h3v3.0h-3z"/><path d="M1598.5 335.3V371.5M1597.0 336.3h3v32.2h-3z"/><path d="M1602.5 364.2V394.3M1601.0 367.2h3v23.1h-3z"/><path d="M1606.5 388.3V403.9M1605.0 390.3h3v11.6h-3z"/><path d="M1610.5 395.3V440.0M1609.0 399.3h3v38.6h-3z"/><path d="M1622.5 410.8V437.0M1621.0 411.8h3v22.2h-3z"/><path d="M1630.5 408.3V415.5M1629.0 409.3h3v6.2h-3z"/><path d="M1642.5 392.8V410.1M1641.0 395.8h3v12.3h-3z"/><path d="M1658.5 361.0V380.5M1657.0 365.0h3v13.5h-3z"/><path d="M1662.5 372.8V392.4M1661.0 374.8h3v13.6h-3z"/><path d="M1674.5 360.7V371.9M1673.0 363.7h3v6.2h-3z"/><path d="M1698.5 302.3V340.8M1697.0 303.3h3v34.5h-3z"/><path d="M1702.5 336.8V347.7M1701.0 337.8h3v9.9h-3z"/><path d="M1706.5 339.5V361.5M1705.0 341.5h3v16.0h-3z"/><path d="M1710.5 364.2V383.0M1709.0 366.2h3v14.8h-3z"/><path d="M1718.5 372.3V400.0M1717.0 372.3h3v24.7h-3z"/><path d="M1722.5 393.8V417.3M1721.0 395.8h3v18.5h-3z"/><path d="M1734.5 385.1V408.4M1733.0 387.1h3v17.3h-3z"/><path d="M1738.5 404.4V437.0M1737.0 404.4h3v29.6h-3z"/><path d="M1742.5 432.0V479.0M1741.0 434.0h3v30.8h-3z"/><path d="M1750.5 418.7V442.2M1749.0 421.7h3v18.5h-3z"/><path d="M1758.5 405.1V420.0M1757.0 408.1h3v9.9h-3z"/><path d="M1762.5 417.0V433.0M1761.0 418.0h3v11.0h-3z"/><path d="M1766.5 427.8V438.0M1765.0 427.8h3v6.2h-3z"/><path d="M1782.5 400.2V438.2M1781.0 403.2h3v32.0h-3z"/><path d="M1790.5 414.0V437.2M1789.0 418.0h3v17.2h-3z"/><path d="M1794.5 430.0V440.0M1793.0 430.0h3v8.0h-3z"/><path d="M1798.5 433.5V448.6M1797.0 436.5h3v11.1h-3z"/><path d="M1806.5 440.6V449.3M1805.0 442.6h3v3.7h-3z"/><path d="M1810.5 440.9V448.6M1809.0 443.9h3v3.7h-3z"/><path d="M1818.5 442.9V452.3M1817.0 443.9h3v7.4h-3z"/><path d="M1822.5 450.3V462.9M1821.0 451.3h3v8.6h-3z"/><path d="M1834.5 450.5V478.2M1833.0 452.5h3v24.7h-3z"/><path d="M1842.5 459.9V478.0M1841.0 459.9h3v16.1h-3z"/><path d="M1854.5 441.6V455.5M1853.0 442.6h3v9.9h-3z"/><path d="M1862.5 412.5V427.4M1861.0 415.5h3v9.9h-3z"/></g><g fill="#d3d3d3" stroke="#d3d3d3" stroke-width="1"><path d="M6.4 125.0V133.0M4.9 127.0h3v3.0h-3z"/><path d="M10.3 124.0V137.0M8.8 125.7h3v3.3h-3z"/><path d="M18.5 94.0V133.0M17.0 94.0h3v35.0h-3z"/><path d="M22.6 68.0V95.6M21.1 70.0h3v25.6h-3z"/><path d="M26.5 41.3V70.6M25.0 42.3h3v26.3h-3z"/><path d="M38.3 54.4V73.0M36.8 54.4h3v16.6h-3z"/><path d="M74.3 127.0V145.0M72.8 129.0h3v14.0h-3z"/><path d="M86.5 136.0V142.2M85.0 140.0h3v1.2h-3z"/><path d="M90.0 97.0V144.0M88.5 98.0h3v44.0h-3z"/><path d="M94.5 98.0V102.2M93.0 99.0h3v1.2h-3z"/><path d="M110.6 139.4V158.6M109.1 142.4h3v5.9h-3z"/><path d="M114.5 140.0V145.0M113.0 141.0h3v4.0h-3z"/><path d="M118.3 137.3V146.5M116.8 139.3h3v5.2h-3z"/><path d="M122.2 115.0V141.0M120.7 129.0h3v9.0h-3z"/><path d="M134.5 138.0V148.3M133.0 141.0h3v7.3h-3z"/><path d="M146.6 139.0V148.8M145.1 141.0h3v4.8h-3z"/><path d="M154.3 126.5V147.0M152.8 136.7h3v6.3h-3z"/><path d="M186.5 206.5V230.6M185.0 207.5h3v12.9h-3z"/><path d="M190.4 179.8V209.5M188.9 181.8h3v25.7h-3z"/><path d="M198.6 182.3V193.0M197.1 184.3h3v7.7h-3z"/><path d="M202.7 179.8V207.5M201.2 181.8h3v12.8h-3z"/><path d="M218.7 209.0V215.0M217.2 210.0h3v4.0h-3z"/><path d="M226.9 228.0V233.6M225.4 228.0h3v2.6h-3z"/><path d="M230.7 226.8V234.6M229.2 226.8h3v3.8h-3z"/><path d="M234.6 223.5V231.4M233.1 225.5h3v3.9h-3z"/><path d="M242.6 223.0V231.0M241.1 224.0h3v6.0h-3z"/><path d="M250.4 210.8V250.4M248.9 211.8h3v36.6h-3z"/><path d="M254.4 202.7V213.8M252.9 204.7h3v7.1h-3z"/><path d="M262.6 195.5V213.7M261.1 195.5h3v14.2h-3z"/><path d="M266.6 193.5V198.5M265.1 193.5h3v4.0h-3z"/><path d="M270.7 175.2V198.5M269.2 177.2h3v18.3h-3z"/><path d="M274.8 150.8V177.2M273.3 153.8h3v23.4h-3z"/><path d="M282.5 145.6V166.0M281.0 154.8h3v8.2h-3z"/><path d="M286.6 144.6V157.8M285.1 146.6h3v10.2h-3z"/><path d="M294.7 154.8V181.2M293.2 157.8h3v19.4h-3z"/><path d="M302.9 148.7V167.0M301.4 151.7h3v13.3h-3z"/><path d="M311.0 158.9V162.0M309.5 158.9h3v1.2h-3z"/><path d="M322.6 171.0V178.2M321.1 173.0h3v5.2h-3z"/><path d="M347.0 261.7V279.0M345.5 263.7h3v15.3h-3z"/><path d="M354.6 235.2V274.8M353.1 237.2h3v35.6h-3z"/><path d="M358.7 233.2V241.3M357.2 234.2h3v6.1h-3z"/><path d="M362.7 228.0V247.4M361.2 232.0h3v13.4h-3z"/><path d="M370.5 220.0V237.2M369.0 221.0h3v13.2h-3z"/><path d="M379.0 235.2V277.0M377.5 238.2h3v6.1h-3z"/><path d="M382.7 190.4V241.3M381.2 192.4h3v46.9h-3z"/><path d="M390.8 191.4V193.5M389.3 191.4h3v1.2h-3z"/><path d="M403.0 192.4V211.7M401.5 192.4h3v17.3h-3z"/><path d="M415.2 208.7V226.0M413.7 209.7h3v16.3h-3z"/><path d="M423.0 225.0V230.0M421.5 227.0h3v2.0h-3z"/><path d="M431.0 215.9V234.2M429.5 216.9h3v16.3h-3z"/><path d="M434.6 203.7V220.9M433.1 206.7h3v10.2h-3z"/><path d="M442.7 213.9V227.0M441.2 216.9h3v7.1h-3z"/><path d="M455.0 234.2V262.7M453.5 238.2h3v14.3h-3z"/><path d="M459.0 209.8V240.2M457.5 213.8h3v23.4h-3z"/><path d="M463.0 205.7V220.0M461.5 209.7h3v8.3h-3z"/><path d="M467.2 197.6V215.8M465.7 199.6h3v14.2h-3z"/><path d="M482.5 224.6V242.7M481.0 224.6h3v17.1h-3z"/><path d="M486.5 214.3V225.6M485.0 214.3h3v10.3h-3z"/><path d="M490.5 208.0V217.0M489.0 210.0h3v6.0h-3z"/><path d="M494.5 193.0V214.3M493.0 198.9h3v15.4h-3z"/><path d="M502.5 200.6V207.4M501.0 200.6h3v6.8h-3z"/><path d="M526.5 317.0V332.0M525.0 318.0h3v12.0h-3z"/><path d="M546.5 380.3V420.0M545.0 382.3h3v37.7h-3z"/><path d="M550.5 358.3V393.0M549.0 358.3h3v30.7h-3z"/><path d="M554.5 354.0V364.0M553.0 356.0h3v6.0h-3z"/><path d="M562.5 371.0V375.4M561.0 372.0h3v3.4h-3z"/><path d="M570.5 332.0V378.4M569.0 336.0h3v39.4h-3z"/><path d="M586.5 412.0V418.6M585.0 413.0h3v3.6h-3z"/><path d="M590.5 396.0V417.6M589.0 396.0h3v20.6h-3z"/><path d="M598.5 384.7V416.0M597.0 385.7h3v27.3h-3z"/><path d="M614.5 393.7V420.0M613.0 397.7h3v22.3h-3z"/><path d="M626.5 448.1V463.9M625.0 449.1h3v13.8h-3z"/><path d="M638.5 448.9V476.9M637.0 450.9h3v24.0h-3z"/><path d="M642.5 429.7V452.9M641.0 433.7h3v17.2h-3z"/><path d="M654.5 453.7V482.3M653.0 457.7h3v20.6h-3z"/><path d="M658.5 429.7V465.1M657.0 433.7h3v27.4h-3z"/><path d="M666.5 415.6V444.6M665.0 416.6h3v24.0h-3z"/><path d="M670.5 406.0V423.0M669.0 408.0h3v12.0h-3z"/><path d="M678.5 408.7V432.3M677.0 409.7h3v20.6h-3z"/><path d="M690.5 416.6V427.4M689.0 416.6h3v6.8h-3z"/><path d="M694.5 393.6V419.0M693.0 396.0h3v22.0h-3z"/><path d="M710.5 456.8V466.0M709.0 458.8h3v3.2h-3z"/><path d="M714.5 435.0V461.4M713.0 438.0h3v22.4h-3z"/><path d="M722.5 523.8V529.6M721.0 524.8h3v4.8h-3z"/><path d="M734.5 536.7V546.0M733.0 537.7h3v6.3h-3z"/><path d="M742.5 535.7V575.4M741.0 537.7h3v33.7h-3z"/><path d="M746.5 532.8V539.7M745.0 532.8h3v4.9h-3z"/><path d="M754.5 524.0V550.3M753.0 528.0h3v19.3h-3z"/><path d="M758.5 526.4V545.0M757.0 526.4h3v14.6h-3z"/><path d="M766.5 526.0V575.4M765.0 528.0h3v43.4h-3z"/><path d="M770.5 476.7V532.0M769.0 479.7h3v48.3h-3z"/><path d="M774.5 459.4V481.7M773.0 460.4h3v19.3h-3z"/><path d="M782.5 477.4V502.0M781.0 481.4h3v17.6h-3z"/><path d="M786.5 462.7V483.0M785.0 463.7h3v19.3h-3z"/><path d="M794.5 477.7V507.5M793.0 479.7h3v25.8h-3z"/><path d="M798.5 471.3V489.0M797.0 473.3h3v12.7h-3z"/><path d="M806.5 446.6V477.5M805.0 447.6h3v28.9h-3z"/><path d="M810.5 441.7V449.2M809.0 442.7h3v6.5h-3z"/><path d="M814.5 432.0V444.7M813.0 433.0h3v9.7h-3z"/><path d="M818.5 410.0V445.0M817.0 412.0h3v29.0h-3z"/><path d="M834.5 458.4V476.3M833.0 460.4h3v12.9h-3z"/><path d="M854.5 555.6V577.7M853.0 558.6h3v16.1h-3z"/><path d="M858.5 561.8V571.8M857.0 561.8h3v8.0h-3z"/><path d="M874.5 596.4V630.4M873.0 600.4h3v29.0h-3z"/><path d="M882.5 625.0V657.7M881.0 626.0h3v30.7h-3z"/><path d="M886.5 594.6V628.0M885.0 595.6h3v30.4h-3z"/><path d="M890.5 568.8V598.0M889.0 569.8h3v24.2h-3z"/><path d="M894.5 553.4V570.8M893.0 555.4h3v14.4h-3z"/><path d="M898.5 544.7V557.4M897.0 545.7h3v9.7h-3z"/><path d="M910.5 573.3V587.0M909.0 576.3h3v9.7h-3z"/><path d="M934.5 605.7V628.0M933.0 607.7h3v19.3h-3z"/><path d="M938.5 602.5V609.7M937.0 604.5h3v3.2h-3z"/><path d="M942.5 580.4V608.5M941.0 580.4h3v24.1h-3z"/><path d="M946.5 564.0V602.0M945.0 566.0h3v32.0h-3z"/><path d="M950.5 557.0V568.0M949.0 558.0h3v8.0h-3z"/><path d="M954.5 527.3V562.0M953.0 527.3h3v30.7h-3z"/><path d="M958.5 518.5V531.5M957.0 522.5h3v8.0h-3z"/><path d="M962.5 478.0V522.0M961.0 479.0h3v42.0h-3z"/><path d="M966.5 453.3V481.0M965.0 464.6h3v14.4h-3z"/><path d="M974.5 463.0V479.4M973.0 463.0h3v14.4h-3z"/><path d="M990.5 522.0V552.2M989.0 524.0h3v24.2h-3z"/><path d="M994.5 512.0V530.0M993.0 516.0h3v14.0h-3z"/><path d="M998.5 504.0V522.0M997.0 506.0h3v16.0h-3z"/><path d="M1002.5 491.0V507.4M1001.0 492.0h3v14.4h-3z"/><path d="M1006.5 481.3V495.1M1005.0 482.3h3v12.8h-3z"/><path d="M1010.5 463.8V483.9M1009.0 467.8h3v16.1h-3z"/><path d="M1030.5 542.4V577.6M1029.0 543.4h3v32.2h-3z"/><path d="M1038.5 555.9V570.1M1037.0 557.9h3v11.2h-3z"/><path d="M1042.5 524.3V554.0M1041.0 527.3h3v25.7h-3z"/><path d="M1046.5 512.4V535.7M1045.0 514.4h3v19.3h-3z"/><path d="M1062.5 564.0V576.6M1061.0 566.0h3v9.6h-3z"/><path d="M1066.5 565.0V576.6M1065.0 567.0h3v8.6h-3z"/><path d="M1070.5 553.9V577.6M1069.0 557.9h3v17.7h-3z"/><path d="M1078.5 572.0V586.8M1077.0 574.0h3v12.8h-3z"/><path d="M1082.5 551.0V577.6M1081.0 553.0h3v22.6h-3z"/><path d="M1086.5 536.0V556.3M1085.0 537.0h3v19.3h-3z"/><path d="M1090.5 524.3V538.0M1089.0 527.3h3v9.7h-3z"/><path d="M1094.5 507.6V527.3M1093.0 509.6h3v17.7h-3z"/><path d="M1098.5 478.0V511.0M1097.0 479.0h3v29.0h-3z"/><path d="M1102.5 447.5V484.7M1101.0 448.5h3v32.2h-3z"/><path d="M1106.5 418.0V454.0M1105.0 418.0h3v32.0h-3z"/><path d="M1110.5 413.7V421.0M1109.0 414.7h3v3.3h-3z"/><path d="M1114.5 382.5V417.7M1113.0 395.4h3v19.3h-3z"/><path d="M1118.5 395.6V402.8M1117.0 398.6h3v3.2h-3z"/><path d="M1126.5 433.0V450.5M1125.0 434.0h3v14.5h-3z"/><path d="M1134.5 434.0V439.2M1133.0 434.0h3v3.2h-3z"/><path d="M1138.5 403.0V436.6M1137.0 405.0h3v30.6h-3z"/><path d="M1146.5 400.8V420.5M1145.0 401.8h3v17.7h-3z"/><path d="M1158.5 411.8V435.0M1157.0 412.8h3v20.2h-3z"/><path d="M1162.5 393.4V417.6M1161.0 394.4h3v22.2h-3z"/><path d="M1166.5 369.3V393.5M1165.0 370.3h3v23.2h-3z"/><path d="M1174.5 366.5V370.4M1173.0 366.5h3v2.9h-3z"/><path d="M1186.5 381.0V385.8M1185.0 381.0h3v2.8h-3z"/><path d="M1190.5 366.4V383.9M1189.0 367.4h3v14.5h-3z"/><path d="M1206.5 380.9V416.6M1205.0 381.9h3v23.1h-3z"/><path d="M1210.5 381.0V386.7M1209.0 381.0h3v5.7h-3z"/><path d="M1218.5 370.3V386.9M1217.0 370.3h3v12.6h-3z"/><path d="M1222.5 365.5V376.2M1221.0 366.5h3v8.7h-3z"/><path d="M1234.5 364.4V384.0M1233.0 368.4h3v12.6h-3z"/><path d="M1238.5 360.0V370.0M1237.0 364.0h3v5.0h-3z"/><path d="M1246.5 364.5V370.4M1245.0 366.5h3v1.9h-3z"/><path d="M1250.5 356.7V370.4M1249.0 358.7h3v9.7h-3z"/><path d="M1262.5 346.2V374.3M1261.0 346.2h3v24.1h-3z"/><path d="M1266.5 331.6V347.2M1265.0 334.6h3v11.6h-3z"/><path d="M1270.5 306.6V336.6M1269.0 308.6h3v28.0h-3z"/><path d="M1274.5 302.8V327.9M1273.0 303.8h3v24.1h-3z"/><path d="M1282.5 299.8V321.2M1281.0 303.8h3v16.4h-3z"/><path d="M1286.5 288.2V305.7M1285.0 289.3h3v16.4h-3z"/><path d="M1294.5 293.1V301.8M1293.0 294.1h3v7.7h-3z"/><path d="M1302.5 303.8V314.4M1301.0 303.8h3v8.6h-3z"/><path d="M1318.5 320.0V363.6M1317.0 321.0h3v33.9h-3z"/><path d="M1326.5 316.2V323.0M1325.0 319.2h3v2.8h-3z"/><path d="M1330.5 295.0V320.2M1329.0 295.0h3v24.2h-3z"/><path d="M1334.5 291.2V295.0M1333.0 292.2h3v2.8h-3z"/><path d="M1338.5 285.6V296.0M1337.0 289.3h3v5.7h-3z"/><path d="M1358.5 323.0V333.7M1357.0 325.0h3v6.7h-3z"/><path d="M1374.5 321.0V340.4M1373.0 322.0h3v18.4h-3z"/><path d="M1382.5 327.0V334.0M1381.0 330.0h3v2.0h-3z"/><path d="M1390.5 334.0V340.0M1389.0 336.0h3v2.0h-3z"/><path d="M1394.5 335.3V340.9M1393.0 336.3h3v2.6h-3z"/><path d="M1398.5 336.3V341.9M1397.0 336.3h3v2.6h-3z"/><path d="M1414.5 385.0V405.8M1413.0 389.0h3v2.6h-3z"/><path d="M1430.5 433.0V451.8M1429.0 434.0h3v16.8h-3z"/><path d="M1434.5 422.3V437.0M1433.0 426.3h3v7.7h-3z"/><path d="M1438.5 417.0V429.3M1437.0 420.0h3v6.3h-3z"/><path d="M1442.5 397.0V422.0M1441.0 398.0h3v22.0h-3z"/><path d="M1446.5 397.0V423.8M1445.0 398.0h3v25.8h-3z"/><path d="M1482.5 491.5V510.0M1481.0 494.5h3v2.5h-3z"/><path d="M1490.5 483.2V504.0M1489.0 484.2h3v16.8h-3z"/><path d="M1494.5 464.0V484.2M1493.0 465.0h3v19.2h-3z"/><path d="M1498.5 446.2V468.5M1497.0 448.2h3v19.3h-3z"/><path d="M1506.5 478.4V483.0M1505.0 480.4h3v2.6h-3z"/><path d="M1510.5 461.3V482.6M1509.0 462.3h3v19.3h-3z"/><path d="M1514.5 446.0V464.3M1513.0 447.0h3v15.3h-3z"/><path d="M1522.5 440.0V447.0M1521.0 440.0h3v6.0h-3z"/><path d="M1526.5 420.2V450.5M1525.0 421.2h3v28.3h-3z"/><path d="M1530.5 416.3V422.5M1529.0 417.3h3v5.2h-3z"/><path d="M1542.5 415.0V438.6M1541.0 416.0h3v20.6h-3z"/><path d="M1546.5 407.9V417.0M1545.0 410.9h3v5.1h-3z"/><path d="M1550.5 402.2V412.9M1549.0 403.2h3v7.7h-3z"/><path d="M1554.5 390.2V403.2M1553.0 394.2h3v9.0h-3z"/><path d="M1566.5 390.6V401.3M1565.0 391.6h3v7.7h-3z"/><path d="M1570.5 385.7V391.6M1569.0 387.7h3v3.9h-3z"/><path d="M1578.5 385.5V390.0M1577.0 386.5h3v2.5h-3z"/><path d="M1582.5 365.5V390.0M1581.0 368.5h3v20.5h-3z"/><path d="M1586.5 364.6V370.5M1585.0 364.6h3v3.9h-3z"/><path d="M1590.5 349.7V368.6M1589.0 351.7h3v12.9h-3z"/><path d="M1594.5 327.2V355.7M1593.0 335.0h3v16.7h-3z"/><path d="M1614.5 429.2V440.9M1613.0 430.2h3v7.7h-3z"/><path d="M1618.5 414.0V432.5M1617.0 416.0h3v15.5h-3z"/><path d="M1626.5 407.3V437.0M1625.0 409.3h3v24.7h-3z"/><path d="M1634.5 400.4V415.8M1633.0 404.4h3v7.4h-3z"/><path d="M1638.5 392.8V407.6M1637.0 395.8h3v9.8h-3z"/><path d="M1646.5 375.5V401.2M1645.0 378.5h3v19.7h-3z"/><path d="M1650.5 362.2V383.0M1649.0 366.2h3v14.8h-3z"/><path d="M1654.5 359.0V369.4M1653.0 360.0h3v7.4h-3z"/><path d="M1666.5 370.8V391.1M1665.0 374.8h3v12.3h-3z"/><path d="M1670.5 362.5V382.5M1669.0 362.5h3v16.0h-3z"/><path d="M1678.5 352.3V371.6M1677.0 356.3h3v12.3h-3z"/><path d="M1682.5 349.6V358.0M1681.0 352.6h3v2.4h-3z"/><path d="M1686.5 325.0V349.9M1685.0 328.0h3v20.9h-3z"/><path d="M1690.5 312.0V328.0M1689.0 312.0h3v16.0h-3z"/><path d="M1694.5 290.8V312.0M1693.0 301.6h3v10.4h-3z"/><path d="M1714.5 366.2V384.0M1713.0 366.2h3v14.8h-3z"/><path d="M1726.5 410.8V417.5M1725.0 411.8h3v3.7h-3z"/><path d="M1730.5 380.0V411.8M1729.0 381.0h3v30.8h-3z"/><path d="M1746.5 418.4V464.8M1745.0 420.4h3v44.4h-3z"/><path d="M1754.5 413.0V438.2M1753.0 413.0h3v22.2h-3z"/><path d="M1770.5 417.0V428.8M1769.0 418.0h3v9.8h-3z"/><path d="M1774.5 419.9V436.8M1773.0 422.9h3v9.9h-3z"/><path d="M1778.5 412.0V419.0M1777.0 413.0h3v5.0h-3z"/><path d="M1786.5 418.4V437.2M1785.0 420.4h3v14.8h-3z"/><path d="M1802.5 437.4V447.6M1801.0 441.4h3v6.2h-3z"/><path d="M1814.5 445.0V452.0M1813.0 445.0h3v5.0h-3z"/><path d="M1826.5 448.3V462.9M1825.0 451.3h3v8.6h-3z"/><path d="M1830.5 449.0V458.2M1829.0 450.0h3v6.2h-3z"/><path d="M1838.5 467.3V479.2M1837.0 467.3h3v9.9h-3z"/><path d="M1846.5 460.1V475.2M1845.0 461.1h3v11.1h-3z"/><path d="M1850.5 446.3V466.6M1849.0 446.3h3v17.3h-3z"/><path d="M1858.5 414.7V447.3M1857.0 416.7h3v29.6h-3z"/><path d="M1866.5 407.7V418.0M1865.0 408.7h3v7.3h-3z"/></g><path d="M0.0 64.0C1.3 64.8 4.9 67.0 7.7 68.6C10.5 70.2 13.7 73.1 16.7 73.7C19.7 74.3 22.0 72.8 25.7 72.4C29.4 72.0 34.8 71.1 38.6 71.1C42.5 71.1 45.6 71.9 48.8 72.4C52.0 72.9 54.8 73.2 57.8 74.3C60.8 75.4 63.6 77.2 66.8 78.8C70.0 80.4 73.7 82.3 77.1 84.0C80.5 85.7 83.6 87.6 87.4 89.1C91.2 90.6 96.6 91.8 100.0 93.0C103.4 94.2 105.6 94.8 108.0 96.0C110.4 97.2 111.2 98.6 114.5 100.0C117.8 101.4 123.8 103.0 128.0 104.5C132.2 106.0 136.0 107.6 140.0 109.0C144.0 110.4 147.9 111.5 152.0 112.8C156.1 114.1 161.8 115.6 164.6 116.8C167.4 118.0 164.8 117.0 169.0 120.0C173.2 123.0 183.2 130.6 190.0 135.0C196.8 139.4 203.8 142.8 209.5 146.3C215.2 149.8 219.8 152.9 224.5 156.0C229.2 159.1 233.8 162.4 238.0 165.0C242.2 167.6 245.0 169.8 250.0 171.8C255.0 173.8 263.0 176.4 268.0 177.0C273.0 177.6 275.5 176.2 280.0 175.5C284.5 174.8 290.0 173.2 295.0 172.5C300.0 171.8 305.8 171.4 310.0 171.0C314.2 170.6 317.5 170.3 320.0 170.3C322.5 170.3 322.4 170.1 325.0 171.0C327.6 171.9 331.8 172.8 335.5 175.5C339.2 178.2 343.0 184.2 347.5 187.5C352.0 190.8 357.2 193.0 362.5 195.0C367.8 197.0 373.8 198.8 379.0 199.5C384.2 200.2 389.0 199.2 394.0 199.5C399.0 199.8 404.0 200.2 409.0 201.0C414.0 201.8 419.0 203.0 424.0 204.0C429.0 205.0 434.2 205.9 439.0 207.0C443.8 208.1 449.1 210.2 452.6 210.8C456.1 211.4 456.3 210.7 460.0 210.8C463.7 210.9 470.0 211.2 475.0 211.5C480.0 211.8 485.5 212.2 490.0 212.3C494.5 212.4 498.8 211.7 502.0 212.3C505.2 212.9 507.0 213.9 509.5 216.0C512.0 218.1 514.2 221.8 517.0 225.0C519.8 228.2 523.0 232.2 526.0 235.5C529.0 238.8 532.0 240.8 535.0 244.5C538.0 248.2 541.0 254.2 544.0 258.0C547.0 261.8 549.5 263.5 553.0 267.0C556.5 270.5 561.5 275.5 565.0 279.0C568.5 282.5 571.0 284.7 574.0 288.0C577.0 291.3 579.5 295.1 583.0 298.6C586.5 302.1 591.2 305.4 595.0 309.0C598.8 312.6 603.7 318.1 605.6 320.0C607.5 321.9 602.4 314.9 606.6 320.4C610.8 325.9 622.9 343.9 631.0 353.0C639.1 362.1 647.2 369.9 655.4 375.3C663.5 380.7 671.8 382.4 679.9 385.5C688.0 388.6 697.5 390.2 704.3 393.6C711.1 397.0 714.6 400.1 720.6 405.9C726.6 411.7 734.1 422.3 740.0 428.2C745.9 434.1 750.7 436.4 756.0 441.0C761.3 445.6 766.6 452.4 772.0 455.6C777.4 458.8 782.8 459.3 788.2 460.4C793.6 461.5 799.5 462.3 804.3 462.0C809.1 461.7 812.9 459.6 817.2 458.8C821.5 458.0 826.2 456.9 830.0 457.2C833.8 457.5 836.0 457.7 839.7 460.4C843.5 463.1 847.7 467.8 852.5 473.2C857.3 478.6 863.8 486.6 868.6 492.5C873.4 498.4 876.1 503.8 881.5 508.6C886.9 513.4 894.4 517.2 900.8 521.5C907.2 525.8 913.5 530.5 920.0 534.3C926.5 538.0 934.8 541.9 940.0 544.0C945.2 546.1 947.4 547.2 951.4 546.8C955.4 546.4 959.3 543.8 964.3 541.5C969.3 539.2 975.7 534.5 981.4 532.9C987.1 531.3 992.9 533.0 998.6 531.8C1004.3 530.5 1011.4 526.3 1015.7 525.4C1020.0 524.5 1020.7 525.8 1024.3 526.5C1027.9 527.2 1032.2 529.0 1037.2 529.7C1042.2 530.4 1049.3 530.0 1054.3 530.7C1059.3 531.4 1062.9 532.6 1067.2 534.0C1071.5 535.4 1075.7 538.2 1080.0 539.3C1084.3 540.4 1089.4 541.1 1093.0 540.4C1096.6 539.7 1098.7 537.7 1101.5 535.0C1104.3 532.3 1107.2 527.5 1110.0 524.3C1112.8 521.1 1116.9 517.4 1118.6 515.7C1120.3 514.1 1116.2 517.5 1120.0 514.4C1123.8 511.3 1134.2 502.9 1141.4 497.2C1148.6 491.5 1156.5 485.7 1162.9 480.0C1169.3 474.3 1174.3 467.9 1180.0 462.9C1185.7 457.9 1191.5 453.9 1197.2 450.0C1202.9 446.1 1208.6 442.9 1214.3 439.3C1220.0 435.7 1225.8 431.8 1231.5 428.6C1237.2 425.4 1243.6 422.5 1248.6 420.0C1253.6 417.5 1257.2 416.8 1261.5 413.6C1265.8 410.4 1270.0 405.0 1274.3 400.7C1278.6 396.4 1282.9 391.5 1287.2 387.9C1291.5 384.3 1295.0 382.5 1300.0 379.3C1305.0 376.1 1311.5 371.8 1317.2 368.6C1322.9 365.4 1330.0 362.1 1334.3 360.0C1338.6 357.9 1339.3 356.9 1342.9 355.7C1346.5 354.4 1350.7 353.6 1355.7 352.5C1360.7 351.4 1367.2 350.2 1372.9 349.3C1378.6 348.4 1385.3 347.6 1390.0 347.2C1394.7 346.8 1397.2 346.3 1400.8 347.2C1404.4 348.1 1407.6 350.7 1411.5 352.5C1415.4 354.3 1420.0 355.9 1424.3 357.9C1428.6 359.9 1432.9 362.2 1437.2 364.3C1441.5 366.4 1445.7 367.8 1450.0 370.7C1454.3 373.6 1458.6 377.6 1462.9 381.5C1467.2 385.4 1470.8 389.3 1475.8 394.3C1480.8 399.3 1487.9 407.8 1492.9 411.5C1497.9 415.2 1500.7 415.0 1505.7 416.8C1510.7 418.6 1517.2 421.1 1522.9 422.2C1528.6 423.3 1534.3 424.0 1540.0 423.3C1545.7 422.6 1551.5 419.9 1557.2 417.9C1562.9 415.9 1568.6 413.5 1574.3 411.5C1580.0 409.5 1586.5 407.2 1591.5 406.1C1596.5 405.0 1599.7 404.6 1604.3 405.0C1608.9 405.4 1614.3 407.8 1619.3 408.3C1624.3 408.9 1628.9 408.9 1634.3 408.3C1639.7 407.8 1646.1 406.6 1651.5 405.0C1656.9 403.4 1663.4 399.8 1666.5 398.6C1669.6 397.4 1667.3 398.7 1670.0 397.9C1672.7 397.1 1678.6 395.8 1682.9 393.6C1687.2 391.5 1691.4 387.1 1695.7 385.0C1700.0 382.9 1704.3 381.2 1708.6 380.7C1712.9 380.2 1717.1 381.1 1721.4 381.8C1725.7 382.5 1730.0 383.6 1734.3 385.0C1738.6 386.4 1742.9 388.8 1747.2 390.4C1751.5 392.0 1755.7 393.3 1760.0 394.7C1764.3 396.1 1768.6 397.4 1772.9 399.0C1777.2 400.6 1781.5 402.7 1785.8 404.3C1790.1 405.9 1794.3 407.2 1798.6 408.6C1802.9 410.0 1807.2 411.5 1811.5 412.9C1815.8 414.3 1820.0 415.8 1824.3 417.2C1828.6 418.6 1832.9 420.1 1837.2 421.5C1841.5 422.9 1845.7 424.9 1850.0 425.8C1854.3 426.7 1859.9 426.6 1862.9 426.8C1865.9 427.0 1867.2 426.8 1868.0 426.8" stroke="#dcea2c" stroke-width="1.6" stroke-linejoin="round"/><path d="M0.0 72.4C1.1 74.3 4.2 79.7 6.4 84.0C8.6 88.3 11.2 95.0 12.9 98.0C14.6 101.0 15.0 103.0 16.7 102.0C18.4 101.0 21.0 95.1 23.1 91.7C25.2 88.3 27.2 84.0 29.6 81.4C32.0 78.8 34.9 77.4 37.3 76.3C39.6 75.2 41.4 74.6 43.7 75.0C46.1 75.4 49.0 77.1 51.4 78.8C53.8 80.5 55.2 82.1 57.8 85.3C60.4 88.5 64.0 94.2 66.8 98.1C69.6 101.9 72.0 104.8 74.6 108.4C77.2 112.1 80.2 117.2 82.3 120.0C84.4 122.8 85.7 125.3 87.4 125.1C89.1 124.9 90.4 119.3 92.5 118.7C94.6 118.1 98.3 120.2 100.0 121.3C101.7 122.4 100.7 123.5 102.9 125.2C105.1 126.9 109.8 129.9 113.2 131.6C116.6 133.3 120.1 134.4 123.5 135.5C126.9 136.6 130.4 137.6 133.8 138.0C137.2 138.4 140.6 137.8 144.0 138.0C147.4 138.2 151.6 138.8 154.3 139.3C157.0 139.8 157.6 139.2 160.0 141.0C162.4 142.8 166.0 146.0 169.0 150.0C172.0 154.0 174.8 159.2 178.0 165.0C181.2 170.8 184.5 181.0 188.5 184.5C192.5 188.0 198.5 185.0 202.0 186.0C205.5 187.0 206.5 188.2 209.5 190.5C212.5 192.8 216.2 196.2 220.0 199.5C223.8 202.8 228.5 207.0 232.0 210.0C235.5 213.0 238.2 215.2 241.0 217.5C243.8 219.8 246.0 223.2 248.5 223.5C251.0 223.8 253.2 221.2 256.0 219.0C258.8 216.8 262.0 214.5 265.0 210.0C268.0 205.5 271.0 197.2 274.0 192.0C277.0 186.8 280.0 182.2 283.0 178.5C286.0 174.8 288.5 171.6 292.0 169.5C295.5 167.4 299.3 166.8 304.0 165.8C308.7 164.8 315.8 161.9 320.0 163.5C324.2 165.1 326.7 171.0 329.5 175.5C332.3 180.0 334.5 184.2 337.0 190.5C339.5 196.8 342.0 206.0 344.5 213.0C347.0 220.0 349.5 229.0 352.0 232.5C354.5 236.0 356.5 233.8 359.5 234.0C362.5 234.2 366.8 234.0 370.0 234.0C373.2 234.0 376.0 236.8 379.0 234.0C382.0 231.2 385.2 221.0 388.0 217.5C390.8 214.0 393.0 214.4 395.5 213.0C398.0 211.6 400.2 209.3 403.0 209.3C405.8 209.3 409.2 211.6 412.0 213.0C414.8 214.4 416.8 216.2 419.6 217.5C422.4 218.8 425.6 220.0 428.6 220.5C431.6 221.0 434.9 219.8 437.6 220.5C440.3 221.2 442.3 223.2 445.0 225.0C447.7 226.8 451.5 230.8 454.0 231.0C456.5 231.2 457.5 228.5 460.0 226.5C462.5 224.5 465.8 220.8 469.0 219.0C472.2 217.2 476.0 216.4 479.5 216.0C483.0 215.6 486.8 216.8 490.0 216.8C493.2 216.8 496.5 215.9 499.0 216.0C501.5 216.1 503.2 216.0 505.0 217.5C506.8 219.0 508.0 221.8 509.5 225.0C511.0 228.2 512.2 231.5 514.0 237.0C515.8 242.5 518.0 251.5 520.0 258.0C522.0 264.5 523.8 269.5 526.0 276.0C528.2 282.5 531.2 290.5 533.5 297.0C535.8 303.5 538.2 310.4 539.5 315.0C540.8 319.6 540.1 318.8 541.4 324.4C542.7 330.0 544.8 344.1 547.5 348.9C550.2 353.7 554.0 351.0 557.7 353.0C561.5 355.0 566.6 359.0 570.0 361.0C573.4 363.0 575.4 361.8 578.0 365.0C580.6 368.2 582.3 375.1 585.7 380.0C589.1 384.9 594.3 389.1 598.6 394.5C602.9 399.9 607.1 406.1 611.4 412.2C615.7 418.3 620.3 425.5 624.3 431.4C628.3 437.3 631.9 445.4 635.6 447.5C639.4 449.6 643.9 443.5 646.8 444.3C649.7 445.1 650.0 452.3 653.2 452.3C656.4 452.3 661.8 447.2 666.1 444.3C670.4 441.4 674.7 437.9 679.0 434.7C683.3 431.5 688.0 427.4 691.8 425.0C695.5 422.6 698.8 419.9 701.5 420.2C704.2 420.5 705.2 422.6 707.9 426.6C710.6 430.6 714.4 436.0 717.6 444.3C720.8 452.6 724.0 466.3 727.2 476.5C730.4 486.7 732.5 497.9 736.8 505.4C741.1 512.9 748.4 516.7 752.9 521.5C757.4 526.3 760.8 533.2 764.0 534.3C767.2 535.4 769.0 533.4 772.0 528.0C775.0 522.6 778.6 507.0 781.8 502.2C785.0 497.4 787.6 501.7 791.4 499.0C795.1 496.3 800.0 491.6 804.3 486.0C808.6 480.4 813.7 470.3 817.2 465.2C820.7 460.1 822.2 456.7 825.2 455.6C828.2 454.5 832.0 455.9 834.9 458.8C837.8 461.7 840.0 466.0 842.9 473.2C845.8 480.4 848.8 492.0 852.5 502.2C856.2 512.4 861.1 522.5 865.4 534.3C869.7 546.1 874.8 563.9 878.3 573.0C881.8 582.1 883.6 587.4 886.3 589.0C889.0 590.6 891.9 584.8 894.3 582.6C896.7 580.4 898.1 577.1 900.8 576.0C903.5 574.9 907.2 574.4 910.4 576.0C913.6 577.6 916.2 582.0 920.0 585.8C923.8 589.6 929.7 595.9 933.0 598.6C936.3 601.3 937.7 602.8 940.0 601.9C942.3 601.0 944.4 598.8 947.0 593.0C949.6 587.2 952.8 576.5 955.7 567.2C958.6 557.9 961.1 546.5 964.3 537.2C967.5 527.9 971.8 515.1 975.0 511.5C978.2 507.9 980.4 513.8 983.6 515.7C986.8 517.7 990.7 523.9 994.3 523.2C997.9 522.5 1001.4 515.2 1005.0 511.5C1008.6 507.8 1012.8 501.4 1015.7 500.7C1018.6 500.0 1019.7 502.5 1022.2 507.2C1024.7 511.9 1027.9 523.2 1030.7 528.6C1033.5 534.0 1036.1 538.6 1039.3 539.3C1042.5 540.0 1046.4 531.8 1050.0 532.9C1053.6 534.0 1057.2 542.2 1060.8 545.8C1064.4 549.4 1068.3 551.4 1071.5 554.3C1074.7 557.1 1077.2 562.9 1080.0 562.9C1082.8 562.9 1085.7 559.7 1088.6 554.3C1091.5 548.9 1094.3 540.7 1097.2 530.7C1100.1 520.7 1103.0 504.7 1105.8 494.3C1108.6 483.9 1111.4 475.8 1114.3 468.6C1117.2 461.5 1120.4 454.6 1123.0 451.4C1125.6 448.2 1128.3 449.9 1130.0 449.3C1131.7 448.7 1130.3 450.3 1132.9 447.9C1135.5 445.5 1142.1 438.6 1145.7 435.0C1149.3 431.4 1151.4 430.4 1154.3 426.5C1157.2 422.6 1160.1 416.5 1162.9 411.5C1165.8 406.5 1168.6 400.2 1171.4 396.5C1174.2 392.8 1176.8 390.8 1180.0 389.0C1183.2 387.2 1187.5 386.6 1190.7 385.7C1193.9 384.8 1196.8 383.2 1199.3 383.6C1201.8 384.0 1202.8 387.5 1205.7 387.9C1208.6 388.2 1212.9 386.8 1216.5 385.7C1220.1 384.6 1223.3 382.6 1227.2 381.4C1231.1 380.1 1235.7 379.4 1240.0 378.2C1244.3 377.0 1249.3 375.6 1252.9 374.0C1256.5 372.4 1258.7 371.7 1261.5 368.6C1264.3 365.6 1267.2 360.4 1270.0 355.7C1272.8 351.0 1275.7 345.0 1278.6 340.7C1281.5 336.4 1284.2 334.4 1287.2 330.0C1290.2 325.6 1294.5 317.2 1296.6 314.4C1298.7 311.5 1298.0 312.4 1300.0 312.9C1302.0 313.4 1305.7 315.4 1308.6 317.2C1311.5 319.0 1314.3 323.2 1317.2 323.6C1320.1 324.0 1322.9 320.7 1325.7 319.3C1328.5 317.9 1331.4 316.8 1334.3 315.0C1337.2 313.2 1340.1 309.3 1342.9 308.6C1345.8 307.9 1348.2 308.9 1351.4 310.7C1354.6 312.5 1358.6 316.8 1362.2 319.3C1365.8 321.8 1369.0 323.6 1372.9 325.7C1376.8 327.8 1381.8 330.8 1385.7 332.2C1389.6 333.6 1393.6 333.6 1396.5 334.3C1399.4 335.0 1400.8 334.4 1402.9 336.5C1405.0 338.6 1406.8 342.6 1409.3 347.2C1411.8 351.8 1414.7 358.2 1417.9 364.3C1421.1 370.4 1425.4 377.9 1428.6 383.6C1431.8 389.3 1434.3 394.7 1437.2 398.6C1440.1 402.5 1443.0 404.3 1445.8 407.2C1448.6 410.1 1451.4 412.2 1454.3 415.8C1457.2 419.4 1460.0 423.2 1462.9 428.6C1465.8 434.0 1468.3 441.5 1471.5 447.9C1474.7 454.3 1479.0 462.5 1482.2 467.2C1485.4 471.9 1487.1 475.1 1490.7 475.8C1494.3 476.5 1500.0 472.2 1503.6 471.5C1507.2 470.8 1509.0 474.0 1512.2 471.5C1515.4 469.0 1519.3 461.5 1522.9 456.5C1526.5 451.5 1530.0 446.1 1533.6 441.5C1537.2 436.9 1540.4 432.9 1544.3 428.6C1548.2 424.3 1552.9 420.4 1557.2 415.8C1561.5 411.2 1565.7 405.8 1570.0 400.8C1574.3 395.8 1578.6 390.4 1582.9 385.7C1587.2 381.0 1592.6 374.7 1595.8 372.9C1599.0 371.1 1600.1 372.1 1602.2 375.0C1604.3 377.9 1606.1 385.7 1608.6 390.0C1611.1 394.3 1613.6 397.8 1617.2 400.7C1620.8 403.6 1625.7 406.5 1630.0 407.2C1634.3 407.9 1639.3 407.1 1642.9 405.0C1646.5 402.9 1647.9 397.9 1651.5 394.3C1655.1 390.7 1659.7 387.2 1664.4 383.6C1669.2 380.0 1675.8 378.0 1680.0 372.9C1684.2 367.8 1686.3 357.8 1689.3 352.9C1692.3 347.9 1695.1 344.3 1697.9 343.2C1700.8 342.1 1703.6 344.2 1706.4 346.5C1709.2 348.8 1712.1 353.3 1715.0 357.2C1717.9 361.1 1720.7 366.1 1723.6 370.0C1726.5 373.9 1729.3 376.4 1732.2 380.7C1735.1 385.0 1737.9 391.1 1740.7 395.8C1743.5 400.5 1746.4 405.8 1749.3 408.6C1752.2 411.5 1755.0 411.1 1757.9 412.9C1760.8 414.7 1763.7 417.7 1766.5 419.3C1769.3 420.9 1772.2 422.6 1775.0 422.6C1777.8 422.6 1780.7 418.8 1783.6 419.3C1786.5 419.8 1789.3 423.3 1792.2 425.8C1795.1 428.3 1798.0 432.2 1800.8 434.3C1803.6 436.4 1806.1 437.2 1809.3 438.6C1812.5 440.0 1816.4 441.1 1820.0 442.9C1823.6 444.7 1827.2 446.8 1830.8 449.3C1834.4 451.8 1838.7 456.3 1841.5 457.9C1844.3 459.5 1845.4 459.7 1847.9 459.0C1850.4 458.3 1853.7 456.3 1856.5 453.6C1859.3 450.9 1863.1 445.5 1865.0 442.9C1866.9 440.3 1867.5 438.8 1868.0 438.0" stroke="#b42c4c" stroke-width="1.5" stroke-linejoin="round"/><path d="M0.0 57.6C1.3 58.6 4.9 61.1 7.7 63.4C10.5 65.6 13.7 69.4 16.7 71.1C19.7 72.8 22.0 73.2 25.7 73.7C29.4 74.2 35.2 73.9 38.6 74.3C42.0 74.7 43.7 75.1 46.3 76.3C48.9 77.5 51.4 79.7 54.0 81.4C56.6 83.1 59.1 84.7 61.7 86.6C64.3 88.5 66.8 90.9 69.4 93.0C72.0 95.1 74.5 97.7 77.1 99.4C79.7 101.1 82.2 102.9 84.8 103.3C87.4 103.7 90.0 102.4 92.5 102.0C95.0 101.6 98.3 100.5 100.0 100.7C101.7 100.9 100.7 101.4 102.9 103.3C105.1 105.2 109.8 109.1 113.2 112.3C116.6 115.5 120.1 119.6 123.5 122.6C126.9 125.6 130.0 128.4 133.8 130.3C137.7 132.2 142.8 133.1 146.6 134.2C150.4 135.3 154.7 136.2 156.9 136.8C159.1 137.4 157.2 136.3 160.0 137.5C162.8 138.7 169.0 140.4 173.5 144.0C178.0 147.6 182.2 155.2 187.0 159.0C191.8 162.8 197.0 163.0 202.0 166.5C207.0 170.0 212.8 176.0 217.0 180.0C221.2 184.0 224.0 187.0 227.5 190.5C231.0 194.0 234.5 197.9 238.0 201.0C241.5 204.1 245.2 207.6 248.5 209.3C251.8 211.1 254.2 211.5 257.5 211.5C260.8 211.5 264.2 210.4 268.0 209.3C271.8 208.2 276.2 206.2 280.0 204.8C283.8 203.4 286.8 202.9 290.6 201.0C294.4 199.1 299.1 196.0 302.6 193.5C306.1 191.0 308.7 188.2 311.6 186.0C314.5 183.8 316.8 181.8 320.0 180.0C323.2 178.2 327.7 175.2 331.0 175.5C334.3 175.8 337.0 179.2 340.0 181.5C343.0 183.8 346.0 186.8 349.0 189.0C352.0 191.2 354.5 192.2 358.0 195.0C361.5 197.8 366.5 202.3 370.0 205.5C373.5 208.7 375.8 211.8 379.0 214.0C382.2 216.2 386.0 217.4 389.5 219.0C393.0 220.6 396.5 222.0 400.0 223.5C403.5 225.0 407.6 227.2 410.6 228.0C413.6 228.8 415.0 228.8 418.0 228.0C421.0 227.2 425.3 225.0 428.6 223.5C431.9 222.0 434.9 219.9 437.6 219.0C440.3 218.1 442.3 218.2 445.0 218.3C447.7 218.4 451.5 219.9 454.0 219.8C456.5 219.7 457.5 217.9 460.0 217.5C462.5 217.1 466.0 217.0 469.0 217.5C472.0 218.0 475.0 219.5 478.0 220.5C481.0 221.5 484.2 223.2 487.0 223.5C489.8 223.8 491.8 222.2 494.5 222.0C497.2 221.8 500.8 221.0 503.5 222.0C506.2 223.0 508.2 225.5 511.0 228.0C513.8 230.5 517.0 234.0 520.0 237.0C523.0 240.0 526.2 242.8 529.0 246.0C531.8 249.2 534.0 252.0 536.5 256.5C539.0 261.0 541.2 267.8 544.0 273.0C546.8 278.2 549.7 282.2 553.0 288.0C556.3 293.8 560.8 302.3 563.6 307.6C566.4 312.9 567.9 317.2 569.6 320.0C571.3 322.8 570.5 317.6 574.0 324.4C577.5 331.2 584.9 350.8 590.3 361.0C595.7 371.2 601.2 379.0 606.6 385.5C612.0 392.0 617.5 395.1 622.9 399.8C628.3 404.6 633.8 408.9 639.2 414.0C644.6 419.1 651.3 425.9 655.4 430.3C659.5 434.7 659.5 438.5 663.6 440.5C667.7 442.5 674.5 442.5 679.9 442.5C685.3 442.5 690.8 441.2 696.2 440.5C701.6 439.8 708.3 438.1 712.4 438.4C716.5 438.7 716.5 439.1 720.6 442.5C724.7 445.9 733.7 455.8 736.9 458.8C740.1 461.8 736.8 457.4 740.0 460.4C743.2 463.3 750.7 470.1 756.0 476.5C761.3 482.9 767.2 493.6 772.0 499.0C776.8 504.4 780.7 505.9 785.0 508.6C789.3 511.3 793.6 515.5 797.9 515.0C802.2 514.5 806.4 509.7 810.7 505.4C815.0 501.1 819.3 493.9 823.6 489.3C827.9 484.7 832.8 480.4 836.5 478.0C840.2 475.6 842.8 474.6 846.0 474.9C849.2 475.2 852.0 475.7 855.8 479.7C859.6 483.7 864.3 492.6 868.6 499.0C872.9 505.4 877.2 512.4 881.5 518.3C885.8 524.2 890.0 527.9 894.3 534.3C898.6 540.7 902.9 549.8 907.2 556.8C911.5 563.8 915.7 570.1 920.0 576.0C924.3 581.9 929.7 588.7 933.0 592.2C936.3 595.7 938.0 596.2 940.0 597.0C942.0 597.8 942.7 599.0 945.0 597.2C947.3 595.5 950.4 590.8 953.6 586.5C956.8 582.2 960.0 576.3 964.3 571.5C968.6 566.7 974.6 561.1 979.3 557.5C983.9 553.9 987.9 552.7 992.2 550.0C996.5 547.3 1001.1 545.8 1005.0 541.5C1008.9 537.2 1012.5 528.6 1015.7 524.3C1018.9 520.0 1021.4 517.7 1024.3 515.7C1027.2 513.7 1029.3 512.7 1032.9 512.5C1036.5 512.3 1042.2 513.1 1045.8 514.7C1049.4 516.3 1051.1 519.2 1054.3 522.2C1057.5 525.2 1060.7 529.9 1065.0 532.9C1069.3 535.9 1076.1 538.2 1080.0 540.4C1083.9 542.5 1085.7 544.7 1088.6 545.8C1091.5 546.9 1094.3 547.5 1097.2 546.8C1100.1 546.1 1103.0 544.9 1105.8 541.5C1108.6 538.1 1111.4 531.5 1114.3 526.5C1117.2 521.5 1120.4 515.4 1123.0 511.5C1125.6 507.6 1127.7 506.0 1130.0 502.9C1132.3 499.8 1133.8 498.9 1137.1 493.0C1140.4 487.1 1145.7 476.5 1150.0 467.2C1154.3 457.9 1158.6 445.8 1162.9 437.2C1167.2 428.6 1171.4 421.1 1175.7 415.7C1180.0 410.3 1184.3 407.5 1188.6 405.0C1192.9 402.5 1197.2 402.5 1201.5 400.7C1205.8 398.9 1210.0 396.8 1214.3 394.3C1218.6 391.8 1222.9 387.9 1227.2 385.7C1231.5 383.5 1235.7 382.6 1240.0 381.4C1244.3 380.1 1248.6 379.6 1252.9 378.2C1257.2 376.8 1261.5 375.2 1265.8 372.9C1270.1 370.6 1274.3 367.9 1278.6 364.3C1282.9 360.7 1287.9 355.3 1291.5 351.4C1295.1 347.5 1296.4 343.5 1300.0 340.7C1303.6 337.9 1309.0 336.4 1312.9 334.3C1316.8 332.2 1320.0 330.4 1323.6 327.9C1327.2 325.4 1330.7 321.8 1334.3 319.3C1337.9 316.8 1342.2 314.1 1345.0 312.9C1347.8 311.6 1348.2 311.4 1351.4 311.8C1354.6 312.2 1360.0 313.8 1364.3 315.0C1368.6 316.2 1373.3 317.7 1377.2 319.3C1381.1 320.9 1384.3 323.6 1387.9 324.7C1391.5 325.8 1395.4 324.8 1398.6 325.7C1401.8 326.6 1404.3 327.5 1407.2 330.0C1410.1 332.5 1413.0 337.1 1415.8 340.7C1418.6 344.3 1421.4 347.9 1424.3 351.5C1427.2 355.1 1429.3 358.3 1432.9 362.2C1436.5 366.1 1442.2 371.4 1445.8 375.0C1449.4 378.6 1451.4 380.0 1454.3 383.6C1457.2 387.2 1460.0 391.1 1462.9 396.5C1465.8 401.9 1468.7 410.4 1471.5 415.8C1474.3 421.2 1477.2 424.0 1480.0 428.6C1482.8 433.2 1485.8 439.7 1488.6 443.6C1491.4 447.5 1493.9 449.5 1497.1 452.2C1500.3 454.9 1503.6 457.9 1507.9 459.7C1512.2 461.5 1517.6 462.0 1522.9 462.9C1528.2 463.8 1535.4 465.7 1540.0 465.0C1544.6 464.3 1546.4 461.8 1550.7 458.6C1555.0 455.4 1561.1 450.1 1565.7 445.8C1570.3 441.5 1574.3 438.3 1578.6 432.9C1582.9 427.5 1587.6 419.3 1591.5 413.6C1595.4 407.9 1599.4 401.6 1602.2 398.6C1605.0 395.6 1605.4 395.9 1608.6 395.4C1611.8 394.9 1617.2 395.6 1621.5 395.4C1625.8 395.2 1630.0 394.7 1634.3 394.3C1638.6 393.9 1642.9 393.9 1647.2 393.2C1651.5 392.5 1655.7 390.4 1660.0 390.0C1664.3 389.6 1669.6 390.7 1672.9 391.1C1676.2 391.5 1676.9 393.9 1680.0 392.2C1683.1 390.5 1687.7 384.4 1691.4 380.7C1695.1 377.0 1698.6 372.7 1702.2 370.0C1705.8 367.3 1709.3 365.8 1712.9 364.7C1716.5 363.6 1720.0 363.6 1723.6 363.6C1727.2 363.6 1730.7 363.3 1734.3 364.7C1737.9 366.1 1741.4 369.7 1745.0 372.2C1748.6 374.7 1752.1 376.8 1755.7 379.7C1759.3 382.6 1762.9 385.6 1766.5 389.3C1770.1 393.1 1773.6 398.3 1777.2 402.2C1780.8 406.1 1784.3 409.7 1787.9 412.9C1791.5 416.1 1795.0 419.0 1798.6 421.5C1802.2 424.0 1805.7 425.8 1809.3 427.9C1812.9 430.0 1816.0 432.9 1820.0 434.3C1824.0 435.7 1829.4 435.4 1833.0 436.5C1836.6 437.6 1838.7 439.4 1841.5 440.8C1844.3 442.2 1847.2 444.1 1850.0 445.0C1852.8 445.9 1855.6 446.1 1858.6 446.1C1861.6 446.1 1866.4 445.2 1868.0 445.0" stroke="#000" stroke-width="2.1" stroke-linejoin="round"/><line x1="899" y1="468" x2="1868" y2="107.0" stroke="#f0704e" stroke-width="1.4"/><line x1="882" y1="661" x2="1868" y2="295.0" stroke="#f0704e" stroke-width="1.4"/><line x1="1861" y1="272" x2="1861" y2="402.5" stroke="#e6e62a" stroke-width="2"/></g><g font-family="Liberation Sans, Arial, sans-serif" font-size="10.5" fill="#f0f0f0" text-anchor="middle"><text x="287.0" y="141.3">158.069</text><text x="247.0" y="259.8">157.987</text><text x="343.0" y="291.3">157.963</text><text x="387.0" y="186.8">158.034</text><text x="454.6" y="272.3">157.978</text><text x="499.0" y="189.3">158.032</text><text x="575.3" y="327.8">157.925</text><text x="543.0" y="466.8">157.828</text><text x="635.3" y="497.8">157.804</text><text x="676.0" y="390.8">157.877</text><text x="739.0" y="609.4">157.718</text><text x="824.0" y="407.3">157.864</text><text x="880.0" y="666.3">157.674</text><text x="967.5" y="448.8">157.832</text><text x="1063.5" y="604.3">157.722</text><text x="1291.4" y="285.8">157.958</text><text x="1344.0" y="282.8">157.960</text><text x="1319.4" y="372.0">157.901</text><text x="1483.0" y="519.5">157.787</text><text x="1595.7" y="324.8">157.928</text><text x="1611.8" y="448.0">157.842</text><text x="1695.4" y="287.8">157.956</text><text x="1743.6" y="488.8">157.811</text></g><g clip-path="url(#cr)" fill="none"><line x1="0" y1="713.5" x2="1868" y2="713.5" stroke="#b8c4c4" stroke-width="1"/><line x1="0" y1="856.3" x2="1868" y2="856.3" stroke="#b8c4c4" stroke-width="1"/><line x1="0" y1="785.2" x2="1868" y2="785.2" stroke="#3a7fa8" stroke-dasharray="2 2" stroke-width="1"/><path d="M0.0 836.0C2.5 836.1 10.9 838.2 15.1 836.5C19.3 834.8 21.4 828.6 25.2 826.0C29.0 823.4 33.5 821.5 37.7 820.9C41.9 820.2 45.7 821.3 50.3 822.1C54.9 822.9 61.2 824.6 65.4 825.9C69.6 827.2 72.2 828.7 75.5 829.7C78.8 830.8 82.2 834.3 85.5 832.2C88.8 830.1 92.2 816.5 95.6 817.1C99.0 817.7 101.9 828.9 105.7 836.0C109.5 843.1 113.6 857.4 118.2 859.9C122.8 862.4 127.8 855.8 133.3 851.0C138.8 846.2 146.4 836.0 151.0 831.0C155.6 826.0 156.8 820.1 161.0 820.9C165.2 821.7 171.1 830.5 176.1 836.0C181.1 841.5 187.0 850.7 191.2 853.6C195.4 856.5 197.1 852.4 201.3 853.6C205.5 854.9 211.4 859.4 216.4 861.1C221.4 862.8 226.4 863.6 231.4 863.6C236.4 863.6 241.9 864.9 246.5 861.1C251.1 857.3 254.9 852.3 259.1 841.0C263.3 829.7 267.9 805.8 271.7 793.2C275.5 780.6 278.0 773.5 281.8 765.5C285.6 757.5 290.1 753.4 294.3 745.4C298.5 737.4 303.1 723.6 306.9 717.7C310.7 711.8 313.6 710.2 317.0 710.2C320.4 710.2 323.6 712.7 327.0 717.7C330.4 722.7 333.7 729.1 337.1 740.4C340.5 751.7 343.9 771.5 347.2 785.7C350.5 800.0 353.4 814.6 357.2 825.9C361.0 837.2 366.4 848.1 369.8 853.6C373.2 859.1 373.6 860.3 377.4 858.6C381.2 856.9 387.5 851.0 392.5 843.5C397.5 836.0 402.5 825.0 407.5 813.3C412.5 801.6 417.6 786.5 422.6 773.1C427.6 759.7 433.5 738.2 437.7 732.8C441.9 727.3 444.4 731.6 447.8 740.4C451.2 749.2 455.9 777.3 457.9 785.7C459.9 794.1 457.1 787.8 460.0 790.7C462.9 793.6 470.9 797.4 475.1 803.3C479.3 809.2 482.3 826.3 485.2 825.9C488.1 825.5 489.3 810.6 492.7 800.8C496.1 790.9 501.1 768.9 505.3 766.8C509.5 764.7 513.7 779.6 517.9 788.2C522.1 796.8 525.8 809.6 530.4 818.4C535.0 827.2 540.5 833.5 545.5 841.0C550.5 848.5 555.6 859.6 560.6 863.6C565.6 867.6 570.7 865.7 575.7 864.9C580.7 864.1 584.9 860.5 590.8 858.6C596.7 856.7 604.3 854.0 611.0 853.6C617.7 853.2 625.1 854.0 631.0 856.1C636.9 858.2 641.2 865.0 646.2 866.2C651.2 867.5 656.7 868.6 661.3 863.6C665.9 858.6 669.6 845.6 673.8 836.0C678.0 826.4 682.2 819.6 686.4 805.8C690.6 792.0 695.9 763.7 699.0 753.0C702.1 742.3 702.4 742.2 705.3 741.6C708.2 741.0 713.0 741.9 716.6 749.2C720.2 756.6 723.4 775.4 726.7 785.7C730.1 796.0 732.5 801.6 736.7 810.8C740.9 820.0 747.2 833.0 751.8 841.0C756.4 849.0 760.2 858.6 764.4 858.6C768.6 858.6 772.4 849.0 777.0 841.0C781.6 833.0 787.0 823.0 792.0 810.8C797.0 798.6 802.6 783.5 807.2 768.0C811.8 752.5 815.5 728.4 819.7 717.7C823.9 707.0 828.5 703.9 832.3 703.9C836.1 703.9 839.0 707.9 842.4 717.7C845.8 727.6 848.3 745.8 852.5 763.0C856.7 780.2 862.5 806.2 867.5 820.9C872.5 835.6 878.0 844.9 882.6 851.0C887.2 857.1 890.6 857.4 895.2 857.4C899.8 857.4 906.2 852.9 910.3 851.0C914.4 849.1 915.9 848.1 920.0 846.0C924.1 843.9 930.5 842.7 935.1 838.5C939.7 834.3 943.9 831.4 947.7 820.9C951.5 810.4 954.4 789.9 957.7 775.6C961.1 761.3 964.0 742.8 967.8 735.3C971.6 727.8 976.6 731.1 980.4 730.3C984.2 729.5 986.2 732.0 990.4 730.3C994.6 728.6 1000.9 722.0 1005.5 720.3C1010.1 718.6 1013.9 714.4 1018.1 720.3C1022.3 726.2 1026.5 743.4 1030.7 755.5C1034.9 767.6 1039.1 781.1 1043.3 793.2C1047.5 805.4 1051.2 819.8 1055.8 828.4C1060.4 837.0 1066.0 842.7 1071.0 844.8C1076.0 846.9 1081.8 844.1 1086.0 841.0C1090.2 837.9 1092.3 836.0 1096.1 825.9C1099.9 815.8 1104.5 795.7 1108.7 780.6C1112.9 765.5 1117.1 745.3 1121.3 735.3C1125.5 725.2 1129.6 724.5 1133.8 720.3C1138.0 716.1 1140.1 711.9 1146.4 710.2C1152.7 708.5 1164.9 710.0 1171.6 710.2C1178.3 710.4 1182.5 710.1 1186.7 711.4C1190.9 712.6 1193.4 714.8 1196.7 717.7C1200.0 720.6 1202.6 727.5 1206.8 729.0C1211.0 730.5 1216.0 725.7 1221.9 726.5C1227.8 727.3 1235.7 731.9 1242.0 734.0C1248.3 736.1 1253.7 740.8 1259.6 739.1C1265.5 737.4 1272.2 729.6 1277.2 724.0C1282.2 718.4 1285.2 709.2 1289.8 705.2C1294.4 701.2 1300.3 698.6 1304.9 700.1C1309.5 701.6 1312.9 709.8 1317.5 714.0C1322.1 718.2 1327.6 722.6 1332.6 725.3C1337.6 728.0 1342.7 721.9 1347.7 730.3C1352.7 738.7 1358.6 759.2 1362.8 775.6C1367.0 792.0 1369.9 818.7 1372.8 828.4C1375.7 838.1 1377.1 832.4 1380.0 834.0C1382.9 835.6 1386.9 838.1 1390.3 838.0C1393.7 837.9 1396.7 833.0 1400.5 833.6C1404.3 834.2 1410.0 838.3 1413.4 841.8C1416.8 845.3 1418.0 850.8 1421.0 854.6C1424.0 858.4 1427.1 863.1 1431.4 864.4C1435.7 865.7 1441.2 862.6 1446.8 862.3C1452.3 861.9 1458.7 861.6 1464.7 862.3C1470.7 862.9 1477.6 866.6 1482.7 866.2C1487.8 865.8 1490.5 864.3 1495.6 859.8C1500.7 855.3 1507.9 848.6 1513.5 839.2C1519.1 829.8 1524.3 813.6 1529.0 803.3C1533.7 793.0 1537.5 791.7 1541.8 777.6C1546.1 763.5 1550.3 731.5 1554.6 718.5C1558.9 705.5 1562.8 702.8 1567.5 699.3C1572.2 695.8 1577.8 697.9 1582.9 697.5C1588.0 697.1 1593.6 694.5 1598.3 696.7C1603.0 698.9 1606.8 702.9 1611.1 710.8C1615.4 718.7 1619.7 734.4 1624.0 744.2C1628.3 754.1 1633.0 760.5 1636.8 769.9C1640.6 779.3 1643.7 796.2 1647.1 800.7C1650.5 805.2 1654.0 798.1 1657.4 796.8C1660.8 795.5 1664.2 796.2 1667.6 793.0C1671.0 789.8 1674.5 784.0 1677.9 777.6C1681.3 771.2 1684.8 764.8 1688.2 754.5C1691.6 744.2 1695.0 724.6 1698.4 716.0C1701.8 707.4 1705.3 702.2 1708.7 703.1C1712.1 704.0 1715.6 710.8 1719.0 721.1C1722.4 731.4 1725.9 750.2 1729.3 764.7C1732.7 779.2 1735.7 796.0 1739.5 808.4C1743.3 820.8 1747.3 830.6 1752.4 839.2C1757.5 847.8 1763.9 857.2 1770.3 859.8C1776.7 862.4 1783.2 857.2 1790.9 854.6C1798.6 852.0 1808.9 846.3 1816.6 844.4C1824.3 842.5 1832.0 841.3 1837.1 843.0C1842.2 844.7 1844.4 852.2 1847.4 854.6C1850.4 857.0 1851.6 863.6 1855.0 857.2C1858.4 850.8 1865.8 823.0 1868.0 816.1" stroke="#6e3048" stroke-width="1.4"/><polyline points="0.0,841.0 6.3,868.7 12.6,866.2 20.1,831.0 27.7,755.5 32.7,715.2 37.7,714.0 42.8,730.3 50.3,793.2 55.3,843.5 60.4,866.2 70.4,873.7 80.5,870.0 86.8,863.6 93.1,775.6 98.1,760.5 105.7,795.7 110.7,805.8 115.7,828.4 120.8,828.4 125.8,788.2 130.8,775.6 138.4,747.9 145.9,783.1 151.0,831.0 156.0,812.0 163.5,813.3 171.0,846.0 178.6,866.2 186.2,870.0 193.7,836.0 201.3,775.6 206.3,725.3 213.8,755.5 221.4,831.0 229.0,866.2 239.0,867.4 244.0,844.8 251.6,785.7 256.6,742.9 264.2,717.7 274.2,700.1 284.3,701.4 289.3,715.2 294.3,735.3 299.4,760.5 307.0,798.2 312.0,790.7 317.0,817.1 322.0,805.8 327.0,851.0 334.6,861.1 342.1,871.2 352.2,868.7 359.7,846.0 367.3,755.5 371.1,710.2 377.4,730.3 379.9,745.4 387.4,742.9 390.0,726.5 402.5,734.0 412.6,768.0 417.6,856.1 427.7,853.6 437.7,805.8 442.8,750.4 447.8,795.7 455.3,833.5 460.0,805.8 465.0,775.6 471.3,724.0 476.4,725.3 480.1,759.2 485.2,775.6 491.4,842.3 497.7,775.6 503.3,747.9 510.3,775.6 520.4,841.0 528.0,873.2 543.0,873.2 550.6,856.1 560.6,805.8 570.7,724.0 575.7,742.9 583.3,833.5 593.3,853.6 598.4,852.3 603.4,848.6 611.0,847.3 616.0,843.5 621.0,848.6 631.0,861.1 636.1,861.1 646.2,820.9 656.2,780.6 663.8,740.4 671.3,736.6 678.9,710.2 686.4,725.3 691.4,737.9 699.0,750.4 706.5,768.0 711.6,805.8 716.6,831.0 721.6,851.0 727.9,866.2 741.8,867.4 751.8,843.5 761.9,790.7 772.0,734.0 782.0,719.0 787.0,719.0 794.6,747.9 802.1,780.6 812.2,720.3 822.3,698.9 827.3,707.7 837.4,785.7 842.4,856.1 852.5,872.5 862.5,866.2 882.6,863.6 897.7,742.9 902.8,712.7 912.8,742.9 920.4,818.4 922.5,856.1 930.0,861.1 940.1,818.4 947.7,755.5 951.4,712.7 960.3,696.4 972.8,696.4 979.1,712.7 985.4,785.7 995.5,849.8 1000.5,841.0 1008.0,775.6 1015.1,703.9 1020.6,730.3 1030.7,810.8 1038.2,858.6 1045.8,805.8 1055.8,726.5 1063.4,780.6 1076.0,856.1 1086.0,780.6 1093.6,722.8 1101.1,705.2 1108.7,695.6 1118.7,697.1 1126.3,740.4 1133.8,785.7 1141.4,813.3 1148.9,793.2 1155.2,721.5 1159.0,735.3 1164.0,727.8 1171.6,726.5 1176.6,710.2 1180.4,708.2 1191.7,745.4 1199.2,793.2 1206.8,853.6 1216.9,805.8 1230.7,707.7 1247.0,721.5 1254.6,719.0 1259.6,744.2 1267.2,730.3 1277.2,712.7 1287.3,702.6 1294.8,707.7 1302.4,753.0 1312.5,815.8 1320.0,863.6 1327.5,843.5 1337.6,763.0 1342.6,707.7 1347.7,745.4 1357.7,815.8 1365.3,866.2 1371.6,867.4 1375.3,826.0 1380.0,818.7 1385.1,793.0 1392.8,741.6 1399.3,731.4 1403.1,764.7 1407.0,825.1 1412.1,826.4 1421.0,859.8 1430.0,872.6 1436.5,870.0 1446.8,821.2 1454.5,766.0 1459.6,775.0 1467.3,821.2 1477.6,870.0 1482.7,871.3 1487.9,868.8 1494.3,803.3 1500.7,733.9 1508.4,717.2 1518.7,713.4 1523.8,721.1 1534.1,705.7 1539.2,713.4 1554.6,712.1 1564.9,705.7 1580.3,702.6 1593.1,698.0 1598.3,705.7 1606.0,772.4 1613.7,836.6 1620.1,861.0 1626.5,846.9 1636.8,782.7 1644.5,704.4 1652.2,703.1 1657.4,700.5 1665.0,718.5 1675.3,746.8 1683.0,739.0 1688.2,718.5 1693.3,698.0 1701.0,710.8 1708.7,751.9 1713.8,818.7 1721.6,871.3 1726.7,870.0 1734.4,850.8 1749.8,848.2 1757.5,823.8 1765.2,798.1 1771.6,754.5 1776.8,772.4 1785.8,782.7 1790.9,811.0 1796.0,803.3 1803.7,849.5 1811.4,854.6 1816.6,844.4 1824.3,846.9 1832.0,845.6 1839.7,859.8 1844.8,857.2 1847.4,834.0 1855.0,777.6 1862.8,731.4 1868.0,700.5" stroke="#cfd6d6" stroke-width="1"/><path d="M0.0 818.4C1.7 819.2 6.2 819.0 10.0 823.4C13.8 827.8 18.8 841.6 22.6 844.8C26.4 847.9 28.9 843.3 32.7 842.3C36.5 841.2 41.5 837.7 45.3 838.5C49.1 839.3 51.1 844.9 55.3 847.3C59.5 849.7 65.4 852.1 70.4 853.1C75.4 854.1 81.3 853.5 85.5 853.1C89.7 852.7 91.4 850.4 95.6 850.6C99.8 850.8 105.7 853.4 110.7 854.1C115.7 854.8 120.8 854.9 125.8 854.8C130.8 854.7 135.9 854.0 140.9 853.6C145.9 853.2 151.0 852.3 156.0 852.3C161.0 852.3 166.8 852.8 171.0 853.6C175.2 854.5 176.9 855.8 181.1 857.4C185.3 859.0 190.8 862.1 196.2 863.1C201.6 864.1 206.7 863.2 213.8 863.1C220.9 863.0 230.6 862.8 239.0 862.4C247.4 862.0 257.9 862.5 264.2 860.6C270.5 858.7 272.5 855.1 276.7 851.0C280.9 846.9 285.1 841.0 289.3 836.0C293.5 831.0 297.7 827.2 301.9 820.9C306.1 814.6 310.3 806.6 314.5 798.2C318.7 789.8 323.2 776.8 327.0 770.6C330.8 764.4 333.7 761.6 337.1 761.0C340.5 760.4 343.9 763.1 347.2 766.8C350.5 770.5 353.8 777.9 357.2 783.1C360.6 788.3 363.5 794.2 367.3 798.2C371.1 802.2 375.7 807.0 379.9 807.0C384.1 807.0 388.7 799.7 392.5 798.2C396.3 796.7 398.7 796.1 402.5 798.2C406.3 800.3 410.9 805.8 415.1 810.8C419.3 815.8 423.5 824.4 427.7 828.4C431.9 832.4 436.5 833.4 440.3 834.7C444.1 836.0 447.0 837.0 450.3 836.0C453.6 835.0 456.3 833.4 460.4 829.0C464.5 824.6 471.0 814.3 475.1 809.6C479.2 804.9 481.4 805.6 485.2 800.8C489.0 796.0 493.9 786.9 497.7 780.6C501.5 774.3 504.4 764.7 507.8 763.0C511.2 761.3 514.1 763.5 517.9 770.6C521.7 777.7 525.8 795.3 530.4 805.8C535.0 816.3 540.5 825.8 545.5 833.5C550.5 841.2 555.6 849.4 560.6 852.3C565.6 855.2 571.5 851.0 575.7 851.0C579.9 851.0 582.0 851.2 585.8 852.3C589.6 853.4 593.4 855.7 598.4 857.4C603.4 859.1 609.7 860.6 616.0 862.4C622.3 864.2 628.6 867.2 636.1 868.2C643.6 869.2 655.0 869.2 661.3 868.2C667.6 867.2 669.2 865.3 673.8 862.4C678.4 859.5 684.4 855.4 689.0 851.0C693.6 846.6 697.7 838.9 701.5 836.0C705.3 833.1 709.1 834.4 711.6 833.5C714.1 832.6 714.7 829.6 716.6 830.4C718.5 831.2 719.5 837.1 722.9 838.5C726.2 839.9 731.0 838.5 736.7 838.5C742.4 838.5 751.0 838.4 756.9 838.5C762.8 838.6 767.0 839.4 772.0 839.0C777.0 838.6 782.0 836.8 787.0 836.0C792.0 835.2 797.5 835.5 802.1 834.0C806.7 832.5 810.9 830.7 814.7 827.2C818.5 823.8 821.9 815.6 824.8 813.3C827.7 811.0 829.4 814.0 832.3 813.3C835.2 812.5 837.4 809.5 842.4 808.8C847.4 808.0 855.8 808.5 862.5 808.8C869.2 809.0 876.7 809.5 882.6 810.3C888.5 811.0 892.7 810.3 897.7 813.3C902.7 816.3 909.1 824.0 912.8 828.4C916.5 832.8 916.7 836.6 920.0 839.7C923.3 842.9 928.4 844.9 932.6 847.3C936.8 849.7 940.6 854.5 945.2 854.3C949.8 854.1 955.3 851.6 960.3 846.0C965.3 840.4 970.7 828.0 975.3 820.9C979.9 813.8 983.8 810.4 988.0 803.3C992.2 796.2 996.7 786.1 1000.5 778.1C1004.3 770.1 1006.8 764.0 1010.6 755.5C1014.4 747.0 1017.2 732.0 1023.1 727.3C1029.0 722.6 1040.3 726.4 1045.8 727.3C1051.2 728.2 1052.0 728.7 1055.8 732.8C1059.6 736.9 1064.6 747.3 1068.4 751.7C1072.2 756.1 1073.9 755.4 1078.5 759.2C1083.1 763.0 1088.1 771.8 1096.1 774.3C1104.1 776.8 1120.0 775.3 1126.3 774.3C1132.6 773.2 1129.6 773.6 1133.8 768.0C1138.0 762.4 1146.4 746.9 1151.4 740.4C1156.4 733.9 1159.8 732.4 1164.0 729.0C1168.2 725.6 1172.8 723.0 1176.6 720.3C1180.4 717.6 1183.3 715.0 1186.7 712.7C1190.1 710.4 1188.7 707.5 1196.7 706.4C1204.7 705.3 1224.0 706.1 1234.5 706.4C1245.0 706.7 1250.4 707.9 1259.6 708.2C1268.8 708.5 1282.7 708.7 1289.8 708.2C1296.9 707.7 1297.0 705.0 1302.4 705.2C1307.9 705.5 1315.8 709.0 1322.5 709.7C1329.2 710.5 1336.3 708.9 1342.6 709.7C1348.9 710.5 1354.4 711.7 1360.3 714.7C1366.2 717.7 1372.1 722.0 1377.9 727.8C1383.8 733.6 1390.4 741.9 1395.4 749.3C1400.5 756.7 1403.9 763.4 1408.2 772.4C1412.5 781.4 1416.7 793.0 1421.0 803.3C1425.3 813.6 1430.1 824.6 1434.0 834.0C1437.9 843.4 1438.2 854.6 1444.2 859.8C1450.2 864.9 1462.6 863.7 1469.9 864.9C1477.2 866.1 1482.3 866.2 1487.9 867.0C1493.5 867.8 1497.8 869.9 1503.3 869.5C1508.8 869.1 1515.2 867.4 1521.2 864.9C1527.2 862.4 1532.8 860.6 1539.2 854.6C1545.6 848.6 1553.8 839.3 1559.8 829.0C1565.8 818.7 1570.1 805.9 1575.2 793.0C1580.3 780.1 1585.9 763.2 1590.6 751.9C1595.3 740.6 1599.1 729.3 1603.4 725.0C1607.7 720.7 1612.9 726.4 1616.3 726.2C1619.7 726.0 1621.0 725.3 1624.0 723.7C1627.0 722.1 1629.9 717.5 1634.2 716.5C1638.5 715.5 1644.0 716.8 1649.6 718.0C1655.2 719.2 1662.9 722.3 1667.6 723.7C1672.3 725.1 1671.5 725.7 1677.9 726.2C1684.3 726.8 1699.7 725.9 1706.1 727.0C1712.5 728.1 1713.0 728.0 1716.4 732.6C1719.8 737.2 1723.3 749.1 1726.7 754.5C1730.1 759.9 1733.2 759.6 1737.0 764.7C1740.8 769.8 1745.5 779.1 1749.8 785.3C1754.1 791.5 1758.8 798.6 1762.6 802.0C1766.4 805.4 1769.9 805.2 1772.9 805.8C1775.9 806.4 1777.6 804.1 1780.6 805.8C1783.6 807.5 1787.1 809.7 1790.9 816.1C1794.8 822.5 1799.4 838.0 1803.7 844.4C1808.0 850.8 1812.3 851.8 1816.6 854.6C1820.9 857.4 1825.1 859.5 1829.4 861.0C1833.7 862.5 1837.9 863.3 1842.2 863.6C1846.5 863.9 1851.6 864.3 1855.0 862.8C1858.4 861.3 1860.6 857.0 1862.8 854.6C1865.0 852.2 1867.1 849.3 1868.0 848.2" stroke="#22d0d0" stroke-width="1.7"/><path d="M0.0 710.2C4.2 711.2 16.8 714.4 25.2 716.5C33.6 718.6 41.9 720.1 50.3 722.8C58.7 725.5 67.1 729.0 75.5 732.8C83.9 736.6 92.2 740.8 100.6 745.4C109.0 750.0 117.4 755.1 125.8 760.5C134.2 765.9 144.7 773.8 151.0 778.0C157.3 782.2 159.3 781.9 163.5 785.7C167.7 789.5 169.8 794.9 176.1 800.8C182.4 806.7 192.9 814.2 201.3 820.9C209.7 827.6 220.1 835.5 226.4 841.0C232.7 846.5 234.8 850.7 239.0 853.6C243.2 856.5 245.3 856.5 251.6 858.6C257.9 860.7 268.3 865.0 276.7 866.2C285.1 867.4 293.5 865.9 301.9 865.7C310.3 865.5 318.6 864.8 327.0 864.9C335.4 865.0 343.8 865.9 352.2 866.2C360.6 866.5 369.0 866.8 377.4 866.7C385.8 866.6 394.1 866.0 402.5 865.7C410.9 865.4 419.3 865.5 427.7 864.9C436.1 864.3 443.2 863.4 452.8 862.4C462.4 861.4 476.4 860.1 485.2 859.1C493.9 858.1 496.9 857.0 505.3 856.6C513.7 856.2 522.1 856.8 535.5 856.9C548.9 857.0 569.0 857.3 585.8 857.4C602.6 857.5 619.3 857.4 636.1 857.4C652.9 857.4 675.5 857.2 686.4 857.4C697.3 857.6 695.2 858.2 701.5 858.6C707.8 859.0 716.2 859.3 724.2 859.9C732.2 860.5 740.9 861.1 749.3 862.4C757.7 863.6 764.0 866.7 774.5 867.4C785.0 868.1 801.7 867.3 812.2 866.7C822.7 866.1 829.0 863.9 837.4 863.6C845.8 863.3 854.1 864.3 862.5 864.9C870.9 865.5 878.1 867.2 887.7 867.4C897.3 867.6 908.3 866.3 920.0 866.2C931.7 866.1 947.2 867.6 957.7 866.7C968.2 865.9 972.4 863.3 982.9 861.1C993.4 858.9 1008.0 855.8 1020.6 853.6C1033.2 851.4 1047.9 849.3 1058.4 848.0C1068.9 846.7 1076.4 847.2 1083.5 846.0C1090.6 844.8 1094.8 844.8 1101.1 841.0C1107.4 837.2 1113.8 829.7 1121.3 823.4C1128.8 817.1 1138.0 809.6 1146.4 803.3C1154.8 797.0 1163.2 792.0 1171.6 785.7C1180.0 779.4 1188.3 772.0 1196.7 765.5C1205.1 759.0 1213.5 751.7 1221.9 746.7C1230.3 741.7 1238.6 738.2 1247.0 735.3C1255.4 732.3 1263.8 731.3 1272.2 729.0C1280.6 726.7 1289.0 723.8 1297.4 721.5C1305.8 719.2 1314.1 717.7 1322.5 715.2C1330.9 712.7 1340.6 708.5 1347.7 706.4C1354.8 704.3 1359.4 703.4 1365.3 702.6C1371.2 701.8 1376.2 701.5 1382.9 701.6C1389.6 701.7 1397.6 701.6 1405.7 703.1C1413.8 704.6 1422.9 707.8 1431.4 710.8C1440.0 713.8 1448.5 716.8 1457.0 721.1C1465.5 725.4 1474.1 731.8 1482.7 736.5C1491.3 741.2 1499.8 745.0 1508.4 749.3C1517.0 753.6 1525.5 757.5 1534.1 762.2C1542.7 766.9 1551.2 773.3 1559.8 777.6C1568.3 781.9 1578.6 785.3 1585.4 787.9C1592.2 790.5 1596.6 790.9 1600.9 793.0C1605.2 795.1 1606.8 797.7 1611.1 800.7C1615.4 803.7 1621.3 808.6 1626.5 811.0C1631.7 813.4 1636.0 813.3 1642.0 814.8C1648.0 816.3 1656.1 818.7 1662.5 820.0C1668.9 821.3 1675.4 823.1 1680.5 822.5C1685.6 821.9 1688.2 817.7 1693.3 816.1C1698.4 814.5 1705.7 813.0 1711.3 813.0C1716.9 813.0 1719.8 814.7 1726.7 816.1C1733.6 817.5 1743.9 820.1 1752.4 821.2C1761.0 822.3 1769.5 822.9 1778.0 822.5C1786.5 822.1 1795.1 820.0 1803.7 818.7C1812.3 817.4 1820.9 815.9 1829.4 814.8C1838.0 813.7 1848.6 813.4 1855.0 812.3C1861.4 811.2 1865.8 809.0 1868.0 808.4" stroke="#d8e020" stroke-width="1.7"/></g><rect x="0" y="676" width="1869" height="2" fill="#b4c2c2"/><rect x="0" y="892" width="1869" height="2" fill="#b4c2c2"/><rect x="1868" y="0" width="1" height="933" fill="#b4c2c2"/><g font-family="Liberation Sans, Arial, sans-serif" font-size="9.2" fill="#e8eeee"><line x1="1868" y1="5.6" x2="1871" y2="5.6" stroke="#b4c2c2"/><text x="1872.5" y="9.9">158.175</text><line x1="1868" y1="38.2" x2="1871" y2="38.2" stroke="#b4c2c2"/><text x="1872.5" y="42.5">158.150</text><line x1="1868" y1="70.8" x2="1871" y2="70.8" stroke="#b4c2c2"/><text x="1872.5" y="75.0">158.125</text><line x1="1868" y1="103.3" x2="1871" y2="103.3" stroke="#b4c2c2"/><text x="1872.5" y="107.6">158.100</text><line x1="1868" y1="135.8" x2="1871" y2="135.8" stroke="#b4c2c2"/><text x="1872.5" y="140.1">158.075</text><line x1="1868" y1="168.4" x2="1871" y2="168.4" stroke="#b4c2c2"/><text x="1872.5" y="172.7">158.050</text><line x1="1868" y1="200.9" x2="1871" y2="200.9" stroke="#b4c2c2"/><text x="1872.5" y="205.2">158.025</text><line x1="1868" y1="233.5" x2="1871" y2="233.5" stroke="#b4c2c2"/><text x="1872.5" y="237.8">158.000</text><line x1="1868" y1="266.0" x2="1871" y2="266.0" stroke="#b4c2c2"/><text x="1872.5" y="270.3">157.975</text><line x1="1868" y1="298.6" x2="1871" y2="298.6" stroke="#b4c2c2"/><text x="1872.5" y="302.9">157.950</text><line x1="1868" y1="331.1" x2="1871" y2="331.1" stroke="#b4c2c2"/><text x="1872.5" y="335.4">157.925</text><line x1="1868" y1="363.7" x2="1871" y2="363.7" stroke="#b4c2c2"/><text x="1872.5" y="368.0">157.900</text><line x1="1868" y1="396.2" x2="1871" y2="396.2" stroke="#b4c2c2"/><text x="1872.5" y="400.6">157.875</text><line x1="1868" y1="428.8" x2="1871" y2="428.8" stroke="#b4c2c2"/><text x="1872.5" y="433.1">157.850</text><line x1="1868" y1="461.3" x2="1871" y2="461.3" stroke="#b4c2c2"/><text x="1872.5" y="465.6">157.825</text><line x1="1868" y1="493.9" x2="1871" y2="493.9" stroke="#b4c2c2"/><text x="1872.5" y="498.2">157.800</text><line x1="1868" y1="526.4" x2="1871" y2="526.4" stroke="#b4c2c2"/><text x="1872.5" y="530.7">157.775</text><line x1="1868" y1="559.0" x2="1871" y2="559.0" stroke="#b4c2c2"/><text x="1872.5" y="563.3">157.750</text><line x1="1868" y1="591.5" x2="1871" y2="591.5" stroke="#b4c2c2"/><text x="1872.5" y="595.8">157.725</text><line x1="1868" y1="624.1" x2="1871" y2="624.1" stroke="#b4c2c2"/><text x="1872.5" y="628.4">157.700</text><line x1="1868" y1="656.6" x2="1871" y2="656.6" stroke="#b4c2c2"/><text x="1872.5" y="660.9">157.675</text></g><rect x="1869" y="230" width="39" height="11.7" fill="#c3cbcb"/><text x="1872.5" y="239.6" font-family="Liberation Sans, Arial, sans-serif" font-size="9.2" fill="#3a4a4a">158.000</text><rect x="1869" y="407.7" width="39" height="6.3" fill="#f4f4f4"/><rect x="1869" y="397.2" width="39" height="10.5" fill="#000"/><text x="1872.5" y="406.3" font-family="Liberation Sans, Arial, sans-serif" font-size="9.2" fill="#505858">157.872</text><rect x="1869" y="577.8" width="39" height="11.6" fill="#e8103a"/><text x="1872.5" y="587.2" font-family="Liberation Sans, Arial, sans-serif" font-size="9.2" fill="#802030">157.733</text><g font-family="Liberation Sans, Arial, sans-serif" font-size="9.2" fill="#e8eeee"><text x="1870.5" y="687.5">120</text><text x="1870" y="789.3" font-weight="bold">0.00</text><text x="1870.5" y="890">-120</text><text x="1870" y="904">1</text><text x="1870" y="932">0</text></g><rect x="1869" y="710.4" width="39" height="11.6" fill="#c3cbcb"/><text x="1872.8" y="719.8" font-family="Liberation Sans, Arial, sans-serif" font-size="9.2" fill="#3a4a4a">80.0000</text><rect x="1869" y="853" width="39" height="11.9" fill="#c3cbcb"/><text x="1872.6" y="862.4" font-family="Liberation Sans, Arial, sans-serif" font-size="9.2" fill="#3a4a4a">-80.0000</text><g font-family="Liberation Sans, Arial, sans-serif" font-size="13.3" fill="#eef2f2" text-anchor="middle"><svg x="0" y="894" width="1868" height="39" overflow="hidden"><text x="-1.0" y="13.2">14:00</text><text x="59.0" y="13.2">14:15</text><text x="119.1" y="13.2">14:30</text><text x="179.1" y="13.2">14:45</text><text x="239.1" y="13.2">15:00</text><text x="299.1" y="13.2">15:15</text><text x="359.2" y="13.2">15:30</text><text x="419.2" y="13.2">15:45</text><text x="479.2" y="13.2">16:00</text><text x="539.3" y="13.2">16:15</text><text x="599.3" y="13.2">16:30</text><text x="659.3" y="13.2">16:45</text><text x="719.4" y="13.2">17:00</text><text x="779.4" y="13.2">17:15</text><text x="839.4" y="13.2">17:30</text><text x="899.5" y="13.2">17:45</text><text x="959.5" y="13.2">18:00</text><text x="1019.5" y="13.2">18:15</text><text x="1079.5" y="13.2">18:30</text><text x="1139.6" y="13.2">18:45</text><text x="1199.6" y="13.2">19:00</text><text x="1259.6" y="13.2">19:15</text><text x="1319.7" y="13.2">19:30</text><text x="1379.7" y="13.2">19:45</text><text x="1439.7" y="13.2">20:00</text><text x="1499.8" y="13.2">20:15</text><text x="1559.8" y="13.2">20:30</text><text x="1619.8" y="13.2">20:45</text><text x="1679.8" y="13.2">21:00</text><text x="1739.9" y="13.2">21:15</text><text x="1799.9" y="13.2">21:30</text><text x="1859.9" y="13.2">21:45</text></svg></g><text x="0" y="9.6" font-family="Liberation Sans, Arial, sans-serif" font-size="9.1" fill="#eef2f2" xml:space="preserve">USDJPY_MT,M1  157.861 157.868 157.859 157.866</text><text x="-3" y="37" font-family="Liberation Sans, Arial, sans-serif" font-size="9.3" fill="#eef2f2">7</text><text x="0" y="688.8" font-family="Liberation Sans, Arial, sans-serif" font-size="9.15" fill="#eef2f2">JFX-RCI 38.3333 39.5385 -25.1976 -14.0080</text><text x="1769.8" y="688.3" font-family="Liberation Sans, Arial, sans-serif" font-size="15" fill="#f2f4f4" textLength="90.5" lengthAdjust="spacingAndGlyphs">USDJPY, M1</text><text x="1769" y="716" font-family="Liberation Sans, Arial, sans-serif" font-size="27.2" fill="#2b8aee" textLength="93.5" lengthAdjust="spacingAndGlyphs">157.866</text><rect x="1833" y="660.6" width="29.8" height="10" fill="#4a5050" stroke="#1e2626" stroke-width="1"/><svg x="1833" y="661.5" width="30" height="9" overflow="hidden"><text x="1" y="8.6" font-family="Liberation Sans, Arial, sans-serif" font-size="12" fill="#f4f4f4" textLength="28" lengthAdjust="spacingAndGlyphs">/V-pc</text></svg><svg x="1840" y="340" width="28" height="80" overflow="hidden"><text x="16" y="73.5" font-family="Liberation Sans, Arial, sans-serif" font-size="11" fill="#e6e62a">10</text><text x="21.8" y="25" font-family="Liberation Sans, Arial, sans-serif" font-size="10.5" fill="#c8cccc">15</text></svg><rect x="0" y="928" width="4" height="5" fill="#e0b030"/><path d="M1676.4 0h8.8l-4.4 4.2z" fill="#d4e0e0"/><text x="901.8" y="256" font-family="Liberation Sans, 'Noto Sans CJK JP', sans-serif" font-size="28" fill="#ffffff" textLength="300" lengthAdjust="spacingAndGlyphs">1.12 Mon LD USDJPY</text><text x="1233" y="256" font-family="Liberation Sans, 'Noto Sans CJK JP', sans-serif" font-size="28" fill="#ffffff" textLength="151" lengthAdjust="spacingAndGlyphs">※日本休日</text></svg>

<svg width="1908" height="933" viewBox="0 0 1908 933" style="position:absolute;left:0;top:0">
<rect x="880.8" y="1.9" width="273.2" height="173.8" rx="14" ry="14" fill="#ffffff"/>
<path d="M880.8 45.8V15.9a14 14 0 0 1 14-14H1140a14 14 0 0 1 14 14V45.8z" fill="#000"/>
<path d="M1118.2 13.6L1139.2 33.4M1139.2 13.6L1118.2 33.4" stroke="#fff" stroke-width="1.8" fill="none"/>
<text x="920.3" y="110.6" font-family="Liberation Sans, Arial, sans-serif" font-size="55" fill="#000" textLength="190.5" lengthAdjust="spacingAndGlyphs">21:52:40</text>
<text x="895" y="159.8" font-family="Liberation Sans, Arial, sans-serif" font-size="26.3" fill="#000" textLength="143" lengthAdjust="spacingAndGlyphs">2026/01/12</text>
<text x="1064" y="160.5" font-family="Liberation Sans, 'Noto Sans CJK JP', sans-serif" font-size="26" fill="#000" textLength="41.5" lengthAdjust="spacingAndGlyphs">(月)</text>
</svg>

</div></body></html>
